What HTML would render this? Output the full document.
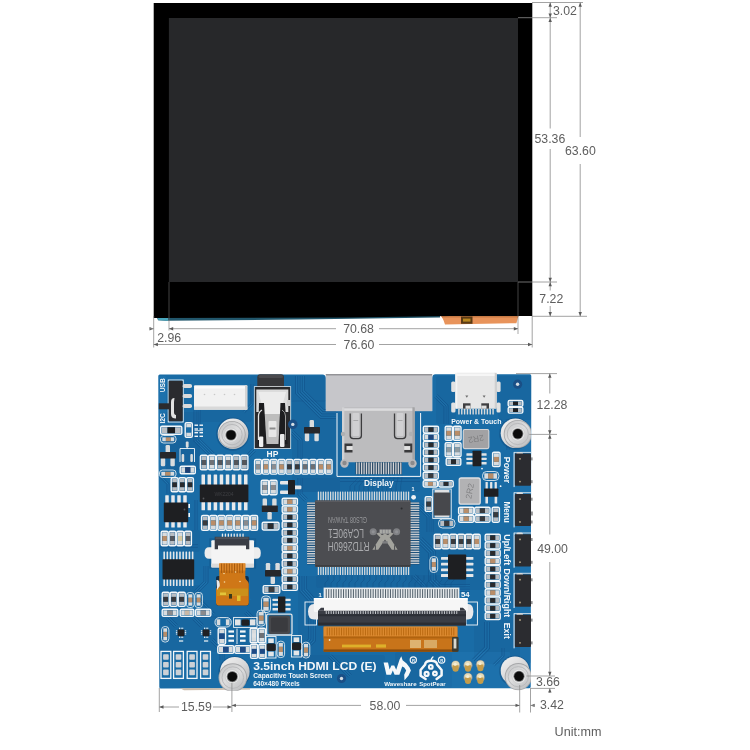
<!DOCTYPE html>
<html lang="en">
<head>
<meta charset="utf-8">
<title>3.5inch HDMI LCD (E) - Outline Dimensions</title>
<style>
html,body{margin:0;padding:0;background:#fff;}
body{width:750px;height:750px;overflow:hidden;font-family:"Liberation Sans",sans-serif;}
svg{display:block;will-change:transform;font-family:"Liberation Sans",sans-serif;}
</style>
</head>
<body>
<svg width="750" height="750" viewBox="0 0 750 750">
<defs>
<filter id="soft" color-interpolation-filters="sRGB" x="-5%" y="-5%" width="110%" height="110%"><feGaussianBlur stdDeviation="0.38"/></filter>
<filter id="tsoft" color-interpolation-filters="sRGB" x="-2%" y="-2%" width="104%" height="104%"><feGaussianBlur stdDeviation="0.3"/></filter>
<linearGradient id="gSt1" x1="0.15" y1="0.1" x2="0.85" y2="0.9"><stop offset="0" stop-color="#ededed"/><stop offset="0.5" stop-color="#d9d9da"/><stop offset="1" stop-color="#b9babc"/></linearGradient>
<linearGradient id="gSt3" x1="0.2" y1="0.1" x2="0.8" y2="0.9"><stop offset="0" stop-color="#c9cacb"/><stop offset="0.45" stop-color="#dededf"/><stop offset="1" stop-color="#c2c3c5"/></linearGradient>
<clipPath id="cpBoard"><rect x="158.3" y="374.3" width="372.7" height="316.4"/></clipPath>

</defs>
<rect width="750" height="750" fill="#ffffff"/>
<g id="lcd" filter="url(#tsoft)">
<polygon points="156.80,317.00 440.00,315.50 440.00,317.40 300.00,319.60 166.00,320.70 158.00,320.20" fill="#21566b" />
<polygon points="156.80,317.00 168.00,317.00 168.00,320.70 158.50,320.30" fill="#49a6bd" />
<polygon points="441.00,315.50 518.60,315.50 516.40,323.20 445.00,324.40 443.40,320.00" fill="#e8935a" />
<polygon points="441.00,315.50 518.60,315.50 518.00,317.50 442.00,317.50" fill="#c77a45" />
<rect x="461.00" y="316.50" width="11.50" height="7.30" fill="#5a3a14" />
<rect x="463.00" y="318.60" width="7.50" height="3.00" fill="#b8861e" />
<polygon points="153.70,3.10 532.30,2.90 532.30,316.00 450.00,316.00 350.00,317.40 153.70,317.90" fill="#000000" />
<rect x="168.90" y="18.00" width="349.10" height="264.00" fill="#27282a" />
</g>
<g id="pcb" filter="url(#soft)">
<path d="M159.8,374.4 H322.5 Q325.8,374.4 325.8,378 V411 H432.2 V378 Q432.2,374.2 435.5,374.2 H529.9 Q531.3,374.2 531.3,376 L530.7,686.6 Q530.7,688.2 529.2,688.2 L160.8,688.4 Q159.3,688.4 159.3,686.9 L158.3,376 Q158.3,374.4 159.8,374.4 Z" fill="#196ca6" />
<polygon points="180.00,688.30 250.00,688.30 250.00,689.60 184.00,690.20" fill="#c9b8a6" />
<rect x="160.00" y="412.00" width="40.00" height="58.00" fill="#155a92" rx="3" opacity="0.28" />
<rect x="196.00" y="410.00" width="56.00" height="12.00" fill="#155a92" rx="3" opacity="0.28" />
<rect x="250.00" y="376.00" width="76.00" height="26.00" fill="#155a92" rx="3" opacity="0.28" />
<rect x="292.00" y="400.00" width="48.00" height="92.00" fill="#155a92" rx="3" opacity="0.28" />
<rect x="160.00" y="440.00" width="40.00" height="30.00" fill="#155a92" rx="3" opacity="0.28" />
<rect x="298.00" y="576.00" width="32.00" height="84.00" fill="#155a92" rx="3" opacity="0.28" />
<rect x="160.00" y="616.00" width="102.00" height="36.00" fill="#155a92" rx="3" opacity="0.28" />
<rect x="410.00" y="500.00" width="30.00" height="100.00" fill="#155a92" rx="3" opacity="0.28" />
<rect x="436.00" y="376.00" width="20.00" height="48.00" fill="#155a92" rx="3" opacity="0.28" />
<rect x="498.00" y="376.00" width="33.00" height="44.00" fill="#155a92" rx="3" opacity="0.28" />
<rect x="474.00" y="620.00" width="57.00" height="44.00" fill="#155a92" rx="3" opacity="0.28" />
<rect x="300.00" y="655.00" width="85.00" height="33.00" fill="#155a92" rx="3" opacity="0.28" />
<rect x="395.00" y="652.00" width="57.00" height="36.00" fill="#155a92" rx="3" opacity="0.28" />
<rect x="300.00" y="478.00" width="120.00" height="14.00" fill="#155a92" rx="3" opacity="0.28" />
<rect x="316.00" y="575.00" width="150.00" height="13.00" fill="#155a92" rx="3" opacity="0.28" />
<rect x="160.00" y="530.00" width="40.00" height="22.00" fill="#155a92" rx="3" opacity="0.28" />
<rect x="200.00" y="600.00" width="62.00" height="18.00" fill="#155a92" rx="3" opacity="0.28" />
<rect x="440.00" y="548.00" width="46.00" height="42.00" fill="#155a92" rx="3" opacity="0.28" />
<rect x="250.00" y="530.00" width="34.00" height="70.00" fill="#155a92" rx="3" opacity="0.28" />
<rect x="160.00" y="585.00" width="40.00" height="9.00" fill="#155a92" rx="3" opacity="0.28" />
<rect x="520.00" y="420.00" width="11.00" height="268.00" fill="#2c86c2" rx="1" opacity="0.22" />
<rect x="158.50" y="376.00" width="7.50" height="94.00" fill="#2c86c2" rx="1" opacity="0.22" />
<rect x="440.00" y="652.00" width="70.00" height="36.00" fill="#2c86c2" rx="1" opacity="0.22" />
<path d="M200.0,410.0 L200.0,438.8 L214.1,452.9" fill="none" stroke="#12528a" stroke-width="0.85" opacity="0.8"/>
<path d="M199.0,410.0 L199.0,439.2 L213.4,453.6" fill="none" stroke="#2f8ac4" stroke-width="0.68" opacity="0.44000000000000006"/>
<path d="M198.0,410.0 L198.0,439.6 L212.7,454.3" fill="none" stroke="#12528a" stroke-width="0.85" opacity="0.8"/>
<path d="M197.0,410.0 L197.0,440.0 L212.0,455.0" fill="none" stroke="#2f8ac4" stroke-width="0.68" opacity="0.44000000000000006"/>
<path d="M196.0,410.0 L196.0,440.4 L211.3,455.7" fill="none" stroke="#12528a" stroke-width="0.85" opacity="0.8"/>
<path d="M195.0,410.0 L195.0,440.8 L210.6,456.4" fill="none" stroke="#2f8ac4" stroke-width="0.68" opacity="0.44000000000000006"/>
<path d="M194.0,410.0 L194.0,441.2 L209.9,457.1" fill="none" stroke="#12528a" stroke-width="0.85" opacity="0.8"/>
<path d="M304.4,376.0 L304.4,390.2 L323.8,409.6 L336.0,409.6" fill="none" stroke="#12528a" stroke-width="0.85" opacity="0.8"/>
<path d="M303.3,376.0 L303.3,390.6 L323.4,410.7 L336.0,410.7" fill="none" stroke="#2f8ac4" stroke-width="0.68" opacity="0.44000000000000006"/>
<path d="M302.2,376.0 L302.2,391.1 L322.9,411.8 L336.0,411.8" fill="none" stroke="#12528a" stroke-width="0.85" opacity="0.8"/>
<path d="M301.1,376.0 L301.1,391.5 L322.5,412.9 L336.0,412.9" fill="none" stroke="#2f8ac4" stroke-width="0.68" opacity="0.44000000000000006"/>
<path d="M300.0,376.0 L300.0,392.0 L322.0,414.0 L336.0,414.0" fill="none" stroke="#12528a" stroke-width="0.85" opacity="0.8"/>
<path d="M298.9,376.0 L298.9,392.5 L321.5,415.1 L336.0,415.1" fill="none" stroke="#2f8ac4" stroke-width="0.68" opacity="0.44000000000000006"/>
<path d="M297.8,376.0 L297.8,392.9 L321.1,416.2 L336.0,416.2" fill="none" stroke="#12528a" stroke-width="0.85" opacity="0.8"/>
<path d="M296.7,376.0 L296.7,393.4 L320.6,417.3 L336.0,417.3" fill="none" stroke="#2f8ac4" stroke-width="0.68" opacity="0.44000000000000006"/>
<path d="M295.6,376.0 L295.6,393.8 L320.2,418.4 L336.0,418.4" fill="none" stroke="#12528a" stroke-width="0.85" opacity="0.8"/>
<path d="M293.4,430.6 L302.0,439.2 L302.0,458.0" fill="none" stroke="#12528a" stroke-width="0.85" opacity="0.8"/>
<path d="M292.7,431.3 L301.0,439.6 L301.0,458.0" fill="none" stroke="#2f8ac4" stroke-width="0.68" opacity="0.44000000000000006"/>
<path d="M292.0,432.0 L300.0,440.0 L300.0,458.0" fill="none" stroke="#12528a" stroke-width="0.85" opacity="0.8"/>
<path d="M291.3,432.7 L299.0,440.4 L299.0,458.0" fill="none" stroke="#2f8ac4" stroke-width="0.68" opacity="0.44000000000000006"/>
<path d="M290.6,433.4 L298.0,440.8 L298.0,458.0" fill="none" stroke="#12528a" stroke-width="0.85" opacity="0.8"/>
<path d="M253.0,384.0 L253.0,404.4 L244.7,412.7" fill="none" stroke="#12528a" stroke-width="0.85" opacity="0.8"/>
<path d="M252.0,384.0 L252.0,404.0 L244.0,412.0" fill="none" stroke="#2f8ac4" stroke-width="0.68" opacity="0.44000000000000006"/>
<path d="M251.0,384.0 L251.0,403.6 L243.3,411.3" fill="none" stroke="#12528a" stroke-width="0.85" opacity="0.8"/>
<path d="M160.0,544.8 L198.0,544.8" fill="none" stroke="#12528a" stroke-width="0.85" opacity="0.8"/>
<path d="M160.0,546.0 L198.0,546.0" fill="none" stroke="#2f8ac4" stroke-width="0.68" opacity="0.44000000000000006"/>
<path d="M160.0,547.2 L198.0,547.2" fill="none" stroke="#12528a" stroke-width="0.85" opacity="0.8"/>
<path d="M194.6,590.6 L204.0,581.2 L204.0,566.0" fill="none" stroke="#12528a" stroke-width="0.85" opacity="0.8"/>
<path d="M195.3,591.3 L205.0,581.6 L205.0,566.0" fill="none" stroke="#2f8ac4" stroke-width="0.68" opacity="0.44000000000000006"/>
<path d="M196.0,592.0 L206.0,582.0 L206.0,566.0" fill="none" stroke="#12528a" stroke-width="0.85" opacity="0.8"/>
<path d="M196.7,592.7 L207.0,582.4 L207.0,566.0" fill="none" stroke="#2f8ac4" stroke-width="0.68" opacity="0.44000000000000006"/>
<path d="M197.4,593.4 L208.0,582.8 L208.0,566.0" fill="none" stroke="#12528a" stroke-width="0.85" opacity="0.8"/>
<path d="M160.0,599.0 L200.4,599.0 L214.7,613.3" fill="none" stroke="#12528a" stroke-width="0.85" opacity="0.8"/>
<path d="M160.0,600.0 L200.0,600.0 L214.0,614.0" fill="none" stroke="#2f8ac4" stroke-width="0.68" opacity="0.44000000000000006"/>
<path d="M160.0,601.0 L199.6,601.0 L213.3,614.7" fill="none" stroke="#12528a" stroke-width="0.85" opacity="0.8"/>
<path d="M247.4,610.6 L263.4,626.6" fill="none" stroke="#12528a" stroke-width="0.85" opacity="0.8"/>
<path d="M246.7,611.3 L262.7,627.3" fill="none" stroke="#2f8ac4" stroke-width="0.68" opacity="0.44000000000000006"/>
<path d="M246.0,612.0 L262.0,628.0" fill="none" stroke="#12528a" stroke-width="0.85" opacity="0.8"/>
<path d="M245.3,612.7 L261.3,628.7" fill="none" stroke="#2f8ac4" stroke-width="0.68" opacity="0.44000000000000006"/>
<path d="M244.6,613.4 L260.6,629.4" fill="none" stroke="#12528a" stroke-width="0.85" opacity="0.8"/>
<path d="M302.0,478.0 L302.0,493.2 L307.4,498.6" fill="none" stroke="#12528a" stroke-width="0.85" opacity="0.8"/>
<path d="M301.0,478.0 L301.0,493.6 L306.7,499.3" fill="none" stroke="#2f8ac4" stroke-width="0.68" opacity="0.44000000000000006"/>
<path d="M300.0,478.0 L300.0,494.0 L306.0,500.0" fill="none" stroke="#12528a" stroke-width="0.85" opacity="0.8"/>
<path d="M299.0,478.0 L299.0,494.4 L305.3,500.7" fill="none" stroke="#2f8ac4" stroke-width="0.68" opacity="0.44000000000000006"/>
<path d="M298.0,478.0 L298.0,494.8 L304.6,501.4" fill="none" stroke="#12528a" stroke-width="0.85" opacity="0.8"/>
<path d="M306.3,576.0 L306.3,588.7 L315.3,598.7 L315.3,641.4 L306.3,650.3" fill="none" stroke="#12528a" stroke-width="0.85" opacity="0.8"/>
<path d="M305.2,576.0 L305.2,589.2 L314.2,599.2 L314.2,640.9 L305.6,649.6" fill="none" stroke="#2f8ac4" stroke-width="0.68" opacity="0.44000000000000006"/>
<path d="M304.1,576.0 L304.1,589.6 L313.1,599.6 L313.1,640.5 L304.8,648.8" fill="none" stroke="#12528a" stroke-width="0.85" opacity="0.8"/>
<path d="M303.0,576.0 L303.0,590.0 L312.0,600.0 L312.0,640.0 L304.0,648.0" fill="none" stroke="#2f8ac4" stroke-width="0.68" opacity="0.44000000000000006"/>
<path d="M301.9,576.0 L301.9,590.4 L310.9,600.4 L310.9,639.5 L303.2,647.2" fill="none" stroke="#12528a" stroke-width="0.85" opacity="0.8"/>
<path d="M300.8,576.0 L300.8,590.8 L309.8,600.8 L309.8,639.1 L302.4,646.4" fill="none" stroke="#2f8ac4" stroke-width="0.68" opacity="0.44000000000000006"/>
<path d="M299.7,576.0 L299.7,591.3 L308.7,601.3 L308.7,638.6 L301.7,645.7" fill="none" stroke="#12528a" stroke-width="0.85" opacity="0.8"/>
<path d="M422.1,503.9 L433.0,514.8 L433.0,532.0" fill="none" stroke="#12528a" stroke-width="0.85" opacity="0.8"/>
<path d="M421.4,504.6 L432.0,515.2 L432.0,532.0" fill="none" stroke="#2f8ac4" stroke-width="0.68" opacity="0.44000000000000006"/>
<path d="M420.7,505.3 L431.0,515.6 L431.0,532.0" fill="none" stroke="#12528a" stroke-width="0.85" opacity="0.8"/>
<path d="M420.0,506.0 L430.0,516.0 L430.0,532.0" fill="none" stroke="#2f8ac4" stroke-width="0.68" opacity="0.44000000000000006"/>
<path d="M419.3,506.7 L429.0,516.4 L429.0,532.0" fill="none" stroke="#12528a" stroke-width="0.85" opacity="0.8"/>
<path d="M418.6,507.4 L428.0,516.8 L428.0,532.0" fill="none" stroke="#2f8ac4" stroke-width="0.68" opacity="0.44000000000000006"/>
<path d="M417.9,508.1 L427.0,517.2 L427.0,532.0" fill="none" stroke="#12528a" stroke-width="0.85" opacity="0.8"/>
<path d="M422.3,537.7 L435.3,550.6 L435.3,578.6 L441.4,584.7 L470.0,584.7" fill="none" stroke="#12528a" stroke-width="0.85" opacity="0.8"/>
<path d="M421.6,538.4 L434.2,551.1 L434.2,579.1 L440.9,585.8 L470.0,585.8" fill="none" stroke="#2f8ac4" stroke-width="0.68" opacity="0.44000000000000006"/>
<path d="M420.8,539.2 L433.1,551.5 L433.1,579.5 L440.5,586.9 L470.0,586.9" fill="none" stroke="#12528a" stroke-width="0.85" opacity="0.8"/>
<path d="M420.0,540.0 L432.0,552.0 L432.0,580.0 L440.0,588.0 L470.0,588.0" fill="none" stroke="#2f8ac4" stroke-width="0.68" opacity="0.44000000000000006"/>
<path d="M419.2,540.8 L430.9,552.5 L430.9,580.5 L439.5,589.1 L470.0,589.1" fill="none" stroke="#12528a" stroke-width="0.85" opacity="0.8"/>
<path d="M418.4,541.6 L429.8,552.9 L429.8,580.9 L439.1,590.2 L470.0,590.2" fill="none" stroke="#2f8ac4" stroke-width="0.68" opacity="0.44000000000000006"/>
<path d="M417.7,542.3 L428.7,553.4 L428.7,581.4 L438.6,591.3 L470.0,591.3" fill="none" stroke="#12528a" stroke-width="0.85" opacity="0.8"/>
<path d="M415.4,574.6 L426.0,585.2 L426.0,600.0" fill="none" stroke="#12528a" stroke-width="0.85" opacity="0.8"/>
<path d="M414.7,575.3 L425.0,585.6 L425.0,600.0" fill="none" stroke="#2f8ac4" stroke-width="0.68" opacity="0.44000000000000006"/>
<path d="M414.0,576.0 L424.0,586.0 L424.0,600.0" fill="none" stroke="#12528a" stroke-width="0.85" opacity="0.8"/>
<path d="M413.3,576.7 L423.0,586.4 L423.0,600.0" fill="none" stroke="#2f8ac4" stroke-width="0.68" opacity="0.44000000000000006"/>
<path d="M412.6,577.4 L422.0,586.8 L422.0,600.0" fill="none" stroke="#12528a" stroke-width="0.85" opacity="0.8"/>
<path d="M340.0,478.7 L420.0,478.7" fill="none" stroke="#12528a" stroke-width="0.85" opacity="0.8"/>
<path d="M340.0,480.0 L420.0,480.0" fill="none" stroke="#2f8ac4" stroke-width="0.68" opacity="0.44000000000000006"/>
<path d="M340.0,481.3 L420.0,481.3" fill="none" stroke="#12528a" stroke-width="0.85" opacity="0.8"/>
<path d="M437.4,394.6 L448.0,405.2 L448.0,424.0" fill="none" stroke="#12528a" stroke-width="0.85" opacity="0.8"/>
<path d="M436.7,395.3 L447.0,405.6 L447.0,424.0" fill="none" stroke="#2f8ac4" stroke-width="0.68" opacity="0.44000000000000006"/>
<path d="M436.0,396.0 L446.0,406.0 L446.0,424.0" fill="none" stroke="#12528a" stroke-width="0.85" opacity="0.8"/>
<path d="M435.3,396.7 L445.0,406.4 L445.0,424.0" fill="none" stroke="#2f8ac4" stroke-width="0.68" opacity="0.44000000000000006"/>
<path d="M434.6,397.4 L444.0,406.8 L444.0,424.0" fill="none" stroke="#12528a" stroke-width="0.85" opacity="0.8"/>
<path d="M489.4,622.0 L489.4,649.0 L475.7,662.7" fill="none" stroke="#12528a" stroke-width="0.85" opacity="0.8"/>
<path d="M488.2,622.0 L488.2,648.5 L474.8,661.8" fill="none" stroke="#2f8ac4" stroke-width="0.68" opacity="0.44000000000000006"/>
<path d="M487.0,622.0 L487.0,648.0 L474.0,661.0" fill="none" stroke="#12528a" stroke-width="0.85" opacity="0.8"/>
<path d="M485.8,622.0 L485.8,647.5 L473.2,660.2" fill="none" stroke="#2f8ac4" stroke-width="0.68" opacity="0.44000000000000006"/>
<path d="M484.6,622.0 L484.6,647.0 L472.3,659.3" fill="none" stroke="#12528a" stroke-width="0.85" opacity="0.8"/>
<path d="M504.0,648.0 L504.0,656.4 L494.7,665.7" fill="none" stroke="#12528a" stroke-width="0.85" opacity="0.8"/>
<path d="M503.0,648.0 L503.0,656.0 L494.0,665.0" fill="none" stroke="#2f8ac4" stroke-width="0.68" opacity="0.44000000000000006"/>
<path d="M502.0,648.0 L502.0,655.6 L493.3,664.3" fill="none" stroke="#12528a" stroke-width="0.85" opacity="0.8"/>
<path d="M331.4,654.6 L351.4,674.6" fill="none" stroke="#12528a" stroke-width="0.85" opacity="0.8"/>
<path d="M330.7,655.3 L350.7,675.3" fill="none" stroke="#2f8ac4" stroke-width="0.68" opacity="0.44000000000000006"/>
<path d="M330.0,656.0 L350.0,676.0" fill="none" stroke="#12528a" stroke-width="0.85" opacity="0.8"/>
<path d="M329.3,656.7 L349.3,676.7" fill="none" stroke="#2f8ac4" stroke-width="0.68" opacity="0.44000000000000006"/>
<path d="M328.6,657.4 L348.6,677.4" fill="none" stroke="#12528a" stroke-width="0.85" opacity="0.8"/>
<path d="M169.4,616.6 L177.4,624.6" fill="none" stroke="#12528a" stroke-width="0.85" opacity="0.8"/>
<path d="M168.7,617.3 L176.7,625.3" fill="none" stroke="#2f8ac4" stroke-width="0.68" opacity="0.44000000000000006"/>
<path d="M168.0,618.0 L176.0,626.0" fill="none" stroke="#12528a" stroke-width="0.85" opacity="0.8"/>
<path d="M167.3,618.7 L175.3,626.7" fill="none" stroke="#2f8ac4" stroke-width="0.68" opacity="0.44000000000000006"/>
<path d="M166.6,619.4 L174.6,627.4" fill="none" stroke="#12528a" stroke-width="0.85" opacity="0.8"/>
<path d="M195.4,616.6 L203.4,624.6" fill="none" stroke="#12528a" stroke-width="0.85" opacity="0.8"/>
<path d="M194.7,617.3 L202.7,625.3" fill="none" stroke="#2f8ac4" stroke-width="0.68" opacity="0.44000000000000006"/>
<path d="M194.0,618.0 L202.0,626.0" fill="none" stroke="#12528a" stroke-width="0.85" opacity="0.8"/>
<path d="M193.3,618.7 L201.3,626.7" fill="none" stroke="#2f8ac4" stroke-width="0.68" opacity="0.44000000000000006"/>
<path d="M192.6,619.4 L200.6,627.4" fill="none" stroke="#12528a" stroke-width="0.85" opacity="0.8"/>
<path d="M213.4,638.6 L224.0,649.2 L224.0,660.0" fill="none" stroke="#12528a" stroke-width="0.85" opacity="0.8"/>
<path d="M212.7,639.3 L223.0,649.6 L223.0,660.0" fill="none" stroke="#2f8ac4" stroke-width="0.68" opacity="0.44000000000000006"/>
<path d="M212.0,640.0 L222.0,650.0 L222.0,660.0" fill="none" stroke="#12528a" stroke-width="0.85" opacity="0.8"/>
<path d="M211.3,640.7 L221.0,650.4 L221.0,660.0" fill="none" stroke="#2f8ac4" stroke-width="0.68" opacity="0.44000000000000006"/>
<path d="M210.6,641.4 L220.0,650.8 L220.0,660.0" fill="none" stroke="#12528a" stroke-width="0.85" opacity="0.8"/>
<path d="M255.4,451.4 L248.0,458.8 L248.0,474.0" fill="none" stroke="#12528a" stroke-width="0.85" opacity="0.8"/>
<path d="M254.7,450.7 L247.0,458.4 L247.0,474.0" fill="none" stroke="#2f8ac4" stroke-width="0.68" opacity="0.44000000000000006"/>
<path d="M254.0,450.0 L246.0,458.0 L246.0,474.0" fill="none" stroke="#12528a" stroke-width="0.85" opacity="0.8"/>
<path d="M253.3,449.3 L245.0,457.6 L245.0,474.0" fill="none" stroke="#2f8ac4" stroke-width="0.68" opacity="0.44000000000000006"/>
<path d="M252.6,448.6 L244.0,457.2 L244.0,474.0" fill="none" stroke="#12528a" stroke-width="0.85" opacity="0.8"/>
<path d="M438.6,598.6 L450.6,586.6" fill="none" stroke="#12528a" stroke-width="0.85" opacity="0.8"/>
<path d="M439.3,599.3 L451.3,587.3" fill="none" stroke="#2f8ac4" stroke-width="0.68" opacity="0.44000000000000006"/>
<path d="M440.0,600.0 L452.0,588.0" fill="none" stroke="#12528a" stroke-width="0.85" opacity="0.8"/>
<path d="M440.7,600.7 L452.7,588.7" fill="none" stroke="#2f8ac4" stroke-width="0.68" opacity="0.44000000000000006"/>
<path d="M441.4,601.4 L453.4,589.4" fill="none" stroke="#12528a" stroke-width="0.85" opacity="0.8"/>
<path d="M500.7,419.3 L509.0,427.6 L509.0,450.0" fill="none" stroke="#12528a" stroke-width="0.85" opacity="0.8"/>
<path d="M500.0,420.0 L508.0,428.0 L508.0,450.0" fill="none" stroke="#2f8ac4" stroke-width="0.68" opacity="0.44000000000000006"/>
<path d="M499.3,420.7 L507.0,428.4 L507.0,450.0" fill="none" stroke="#12528a" stroke-width="0.85" opacity="0.8"/>
<path d="M160.7,475.3 L169.0,483.6 L169.0,494.0" fill="none" stroke="#12528a" stroke-width="0.85" opacity="0.8"/>
<path d="M160.0,476.0 L168.0,484.0 L168.0,494.0" fill="none" stroke="#2f8ac4" stroke-width="0.68" opacity="0.44000000000000006"/>
<path d="M159.3,476.7 L167.0,484.4 L167.0,494.0" fill="none" stroke="#12528a" stroke-width="0.85" opacity="0.8"/>
<path d="M197.0,500.0 L197.0,530.0" fill="none" stroke="#12528a" stroke-width="0.85" opacity="0.8"/>
<path d="M196.0,500.0 L196.0,530.0" fill="none" stroke="#2f8ac4" stroke-width="0.68" opacity="0.44000000000000006"/>
<path d="M195.0,500.0 L195.0,530.0" fill="none" stroke="#12528a" stroke-width="0.85" opacity="0.8"/>
<path d="M328,575.5 V580 L325,583 V588" fill="none" stroke="#12528a" stroke-width="0.8" opacity="0.7"/>
<path d="M334,575.5 V580 L331,583 V588" fill="none" stroke="#12528a" stroke-width="0.8" opacity="0.7"/>
<path d="M340,575.5 V580 L337,583 V588" fill="none" stroke="#12528a" stroke-width="0.8" opacity="0.7"/>
<path d="M346,575.5 V580 L343,583 V588" fill="none" stroke="#12528a" stroke-width="0.8" opacity="0.7"/>
<path d="M352,575.5 V580 L349,583 V588" fill="none" stroke="#12528a" stroke-width="0.8" opacity="0.7"/>
<path d="M358,575.5 V580 L355,583 V588" fill="none" stroke="#12528a" stroke-width="0.8" opacity="0.7"/>
<path d="M364,575.5 V580 L361,583 V588" fill="none" stroke="#12528a" stroke-width="0.8" opacity="0.7"/>
<path d="M370,575.5 V580 L367,583 V588" fill="none" stroke="#12528a" stroke-width="0.8" opacity="0.7"/>
<path d="M376,575.5 V580 L373,583 V588" fill="none" stroke="#12528a" stroke-width="0.8" opacity="0.7"/>
<path d="M382,575.5 V580 L379,583 V588" fill="none" stroke="#12528a" stroke-width="0.8" opacity="0.7"/>
<path d="M388,575.5 V580 L385,583 V588" fill="none" stroke="#12528a" stroke-width="0.8" opacity="0.7"/>
<path d="M394,575.5 V580 L391,583 V588" fill="none" stroke="#12528a" stroke-width="0.8" opacity="0.7"/>
<path d="M400,575.5 V580 L397,583 V588" fill="none" stroke="#12528a" stroke-width="0.8" opacity="0.7"/>
<path d="M406,575.5 V580 L403,583 V588" fill="none" stroke="#12528a" stroke-width="0.8" opacity="0.7"/>
<path d="M412,575.5 V580 L409,583 V588" fill="none" stroke="#12528a" stroke-width="0.8" opacity="0.7"/>
<path d="M418,575.5 V580 L415,583 V588" fill="none" stroke="#12528a" stroke-width="0.8" opacity="0.7"/>
<path d="M424,575.5 V580 L421,583 V588" fill="none" stroke="#12528a" stroke-width="0.8" opacity="0.7"/>
<path d="M430,575.5 V580 L427,583 V588" fill="none" stroke="#12528a" stroke-width="0.8" opacity="0.7"/>
<path d="M436,575.5 V580 L433,583 V588" fill="none" stroke="#12528a" stroke-width="0.8" opacity="0.7"/>
<path d="M442,575.5 V580 L439,583 V588" fill="none" stroke="#12528a" stroke-width="0.8" opacity="0.7"/>
<path d="M448,575.5 V580 L445,583 V588" fill="none" stroke="#12528a" stroke-width="0.8" opacity="0.7"/>
<path d="M454,575.5 V580 L451,583 V588" fill="none" stroke="#12528a" stroke-width="0.8" opacity="0.7"/>
<path d="M358,474.5 V478 L350.0,486 V491" fill="none" stroke="#12528a" stroke-width="0.8" opacity="0.6"/>
<path d="M362,474.5 V478 L354.6,486 V491" fill="none" stroke="#12528a" stroke-width="0.8" opacity="0.6"/>
<path d="M366,474.5 V478 L359.2,486 V491" fill="none" stroke="#12528a" stroke-width="0.8" opacity="0.6"/>
<path d="M370,474.5 V478 L363.8,486 V491" fill="none" stroke="#12528a" stroke-width="0.8" opacity="0.6"/>
<path d="M374,474.5 V478 L368.4,486 V491" fill="none" stroke="#12528a" stroke-width="0.8" opacity="0.6"/>
<path d="M378,474.5 V478 L373.0,486 V491" fill="none" stroke="#12528a" stroke-width="0.8" opacity="0.6"/>
<path d="M382,474.5 V478 L377.6,486 V491" fill="none" stroke="#12528a" stroke-width="0.8" opacity="0.6"/>
<path d="M386,474.5 V478 L382.2,486 V491" fill="none" stroke="#12528a" stroke-width="0.8" opacity="0.6"/>
<path d="M390,474.5 V478 L386.8,486 V491" fill="none" stroke="#12528a" stroke-width="0.8" opacity="0.6"/>
<path d="M394,474.5 V478 L391.4,486 V491" fill="none" stroke="#12528a" stroke-width="0.8" opacity="0.6"/>
<path d="M398,474.5 V478 L396.0,486 V491" fill="none" stroke="#12528a" stroke-width="0.8" opacity="0.6"/>
<path d="M402,474.5 V478 L400.6,486 V491" fill="none" stroke="#12528a" stroke-width="0.8" opacity="0.6"/>
<rect x="325.80" y="374.30" width="106.40" height="36.90" fill="#c6c6ca" />
<line x1="325.80" y1="374.80" x2="432.20" y2="374.80" stroke="#77777b" stroke-width="1.0" />
<text x="164.60" y="392.30" font-size="6.3" fill="#f4f7f9" text-anchor="start" font-weight="bold" transform="rotate(-90 164.60 392.30)" textLength="14" lengthAdjust="spacingAndGlyphs" >USB</text>
<text x="164.60" y="423.50" font-size="6.3" fill="#f4f7f9" text-anchor="start" font-weight="bold" transform="rotate(-90 164.60 423.50)" textLength="10.5" lengthAdjust="spacingAndGlyphs" >I2C</text>
<rect x="168.20" y="380.00" width="15.00" height="42.00" fill="none" stroke="#f4f7f9" stroke-width="0.9" />
<rect x="168.70" y="380.70" width="14.00" height="40.60" fill="#2a2b2f" rx="1" />
<rect x="158.80" y="403.30" width="10.20" height="6.00" fill="#2b2b2d" />
<path d="M174.5,398 Q171,398 171,402 V414 Q171,418.5 176,418.5 V415 Q174,415 174,412 V402 Z" fill="#e2e2e2" />
<rect x="182.70" y="383.90" width="9.30" height="4.20" fill="#dcdcdc" rx="1.8" />
<rect x="182.70" y="393.90" width="9.30" height="4.20" fill="#dcdcdc" rx="1.8" />
<rect x="182.70" y="403.90" width="9.30" height="4.20" fill="#dcdcdc" rx="1.8" />
<rect x="194.00" y="385.30" width="53.30" height="24.40" fill="#f1f1f1" rx="1" />
<rect x="195.00" y="386.20" width="51.30" height="2.30" fill="#fbfbfb" />
<rect x="194.00" y="406.50" width="53.30" height="3.20" fill="#d9d9d9" />
<rect x="245.00" y="385.30" width="2.30" height="24.40" fill="#d4d4d4" />
<circle cx="204.50" cy="394.50" r="0.80" fill="#c9c9c9" />
<circle cx="214.50" cy="394.50" r="0.80" fill="#c9c9c9" />
<circle cx="224.50" cy="394.50" r="0.80" fill="#c9c9c9" />
<circle cx="234.50" cy="394.50" r="0.80" fill="#c9c9c9" />
<g clip-path="url(#cpBoard)">
<circle cx="232.70" cy="434.10" r="16.60" fill="#0f4a7c" opacity="0.45"/>
<circle cx="233.00" cy="433.80" r="15.30" fill="url(#gSt1)" />
<circle cx="232.00" cy="434.60" r="13.70" fill="#a6a7a9" />
<circle cx="232.00" cy="434.60" r="12.80" fill="url(#gSt3)" />
<circle cx="232.00" cy="434.60" r="10.20" fill="none" stroke="#b9babc" stroke-width="1.0" />
<circle cx="231.00" cy="435.00" r="7.60" fill="#cfd0d1" />
<circle cx="231.00" cy="435.00" r="6.60" fill="#e9e9e9" />
<circle cx="231.00" cy="435.00" r="5.60" fill="#838486" />
<circle cx="231.00" cy="435.00" r="4.80" fill="#0b0b0b" />
</g>
<rect x="160.70" y="426.20" width="21.10" height="8.10" fill="none" rx="1.4" stroke="#f4f7f9" stroke-width="1.4" />
<rect x="161.80" y="427.30" width="5.67" height="5.90" fill="#b9bec3" />
<rect x="175.03" y="427.30" width="5.67" height="5.90" fill="#b9bec3" />
<rect x="167.47" y="427.30" width="7.56" height="5.90" fill="#1b1b1d" />
<rect x="162.30" y="437.30" width="3.57" height="3.90" fill="#d9dcde" />
<rect x="170.63" y="437.30" width="3.57" height="3.90" fill="#d9dcde" />
<rect x="165.87" y="437.30" width="4.76" height="3.90" fill="#b98d68" />
<rect x="160.50" y="435.50" width="15.50" height="7.50" fill="none" rx="3" stroke="#f4f7f9" stroke-width="0.8" />
<rect x="185.20" y="422.70" width="7.10" height="14.60" fill="none" rx="1.4" stroke="#f4f7f9" stroke-width="1.4" />
<rect x="186.30" y="423.80" width="4.90" height="3.72" fill="#d9dcde" />
<rect x="186.30" y="432.48" width="4.90" height="3.72" fill="#d9dcde" />
<rect x="186.30" y="427.52" width="4.90" height="4.96" fill="#196ca6" />
<rect x="194.50" y="424.50" width="3.50" height="1.40" fill="#f4f7f9" />
<rect x="199.50" y="424.50" width="3.50" height="1.40" fill="#f4f7f9" />
<rect x="194.50" y="428.30" width="3.50" height="1.40" fill="#f4f7f9" />
<rect x="199.50" y="428.30" width="3.50" height="1.40" fill="#f4f7f9" />
<rect x="194.50" y="432.00" width="3.50" height="1.40" fill="#f4f7f9" />
<rect x="199.50" y="432.00" width="3.50" height="1.40" fill="#f4f7f9" />
<rect x="194.50" y="435.60" width="3.50" height="1.40" fill="#f4f7f9" />
<rect x="199.50" y="435.60" width="3.50" height="1.40" fill="#f4f7f9" />
<line x1="194.50" y1="430.70" x2="203.00" y2="430.70" stroke="#f4f7f9" stroke-width="0.8" />
<rect x="165.60" y="445.00" width="4.40" height="7.60" fill="#d9dcde" rx="1.2" />
<rect x="160.80" y="457.80" width="4.40" height="8.40" fill="#d9dcde" rx="1.2" />
<rect x="170.40" y="457.80" width="4.40" height="8.40" fill="#d9dcde" rx="1.2" />
<rect x="160.00" y="452.00" width="16.00" height="6.40" fill="#26272b" rx="0.6" />
<path d="M180,462 V448.5 H194.5 V462 M187.2,448.5 V442" fill="none" stroke="#f4f7f9" stroke-width="0.9" />
<rect x="185.80" y="441.50" width="2.80" height="6.00" fill="#d9dcde" rx="1" />
<rect x="181.60" y="454.00" width="2.60" height="8.00" fill="#d9dcde" rx="1" />
<rect x="190.30" y="454.00" width="2.60" height="8.00" fill="#d9dcde" rx="1" />
<rect x="257.30" y="374.30" width="26.70" height="14.70" fill="#38383b" rx="3" />
<rect x="258.50" y="375.00" width="24.50" height="3.00" fill="#4a4a4e" rx="1.5" />
<rect x="254.70" y="387.00" width="35.60" height="61.30" fill="#2a2a2c" rx="1.2" />
<rect x="254.30" y="386.60" width="36.40" height="62.00" fill="none" stroke="#dfe3e6" stroke-width="0.8" />
<rect x="256.30" y="389.50" width="32.00" height="22.50" fill="#dcdcdc" />
<polygon points="258.50,392.00 286.00,392.00 280.00,414.00 264.00,414.00" fill="#ececec" />
<polygon points="264.00,414.00 280.00,414.00 279.00,444.00 266.00,444.00" fill="#bdbdbd" />
<polygon points="259.00,403.00 264.00,403.00 266.50,444.00 258.00,444.00" fill="#1d1d1f" />
<polygon points="285.00,403.00 280.50,403.00 278.50,444.00 287.50,444.00" fill="#1d1d1f" />
<path d="M258.5,440 V416 Q258.5,412 262,410" fill="none" stroke="#e6e6e6" stroke-width="1.3" />
<path d="M285.5,440 V416 Q285.5,412 282,410" fill="none" stroke="#9a9a9a" stroke-width="1.0" />
<rect x="268.50" y="421.00" width="8.00" height="16.00" fill="#e6e6e6" rx="1" />
<rect x="269.50" y="427.50" width="6.00" height="2.00" fill="#8c8c8c" />
<rect x="259.00" y="436.50" width="4.30" height="10.50" fill="#f0f0f0" rx="1" />
<rect x="280.00" y="434.00" width="4.50" height="13.00" fill="#ececec" rx="1" />
<rect x="286.80" y="400.00" width="3.50" height="6.00" fill="#cfcfcf" />
<text x="266.60" y="457.40" font-size="8.2" fill="#f4f7f9" text-anchor="start" font-weight="bold" textLength="11.8" lengthAdjust="spacingAndGlyphs" >HP</text>
<circle cx="292.80" cy="424.40" r="4.80" fill="#1a4f86" />
<circle cx="292.80" cy="424.40" r="1.70" fill="#d5dde3" />
<rect x="309.60" y="420.00" width="4.40" height="7.60" fill="#d9dcde" rx="1.2" />
<rect x="304.80" y="432.80" width="4.40" height="8.40" fill="#d9dcde" rx="1.2" />
<rect x="314.40" y="432.80" width="4.40" height="8.40" fill="#d9dcde" rx="1.2" />
<rect x="304.00" y="427.00" width="16.00" height="6.40" fill="#26272b" rx="0.6" />
<path d="M337,413 V476.4 H420.6 V413" fill="none" stroke="#f4f7f9" stroke-width="1.0" />
<rect x="342.00" y="407.30" width="72.70" height="55.00" fill="#bcbcbe" rx="1.5" />
<rect x="343.00" y="408.30" width="70.70" height="2.50" fill="#dcdcde" />
<rect x="342.00" y="407.30" width="2.30" height="55.00" fill="#d2d2d4" />
<rect x="412.40" y="407.30" width="2.30" height="55.00" fill="#a4a4a6" />
<path d="M350.2,413.5 V435.5 Q350.2,438.6 353.2,438.6 H358.4 Q361.4,438.6 361.4,435.5 V413.5" fill="none" stroke="#3c3c3e" stroke-width="1.3" />
<rect x="352.40" y="413.00" width="6.80" height="23.00" fill="#d0d0d2" rx="1" />
<rect x="353.40" y="420.00" width="4.80" height="1.00" fill="#a9a9ab" />
<path d="M394.5,413.5 V435.5 Q394.5,438.6 397.5,438.6 H402.7 Q405.7,438.6 405.7,435.5 V413.5" fill="none" stroke="#3c3c3e" stroke-width="1.3" />
<rect x="396.70" y="413.00" width="6.80" height="23.00" fill="#d0d0d2" rx="1" />
<rect x="397.70" y="420.00" width="4.80" height="1.00" fill="#a9a9ab" />
<path d="M344.5,443.5 H352.5 V446 H346.5 V450 H352.5 V452.5 H344.5 Z" fill="#3a3a3c" />
<path d="M412.3,443.5 H404.3 V446 H410.3 V450 H404.3 V452.5 H412.3 Z" fill="#3a3a3c" />
<rect x="346.80" y="446.20" width="5.70" height="3.60" fill="#e2e2e2" />
<rect x="404.30" y="446.20" width="5.70" height="3.60" fill="#e2e2e2" />
<circle cx="344.50" cy="463.50" r="4.20" fill="#b9b9bb" />
<circle cx="344.50" cy="463.00" r="2.20" fill="#8a8a8c" />
<circle cx="343.00" cy="434.00" r="2.20" fill="#aeb0b2" />
<circle cx="412.50" cy="463.50" r="4.20" fill="#b9b9bb" />
<circle cx="412.50" cy="463.00" r="2.20" fill="#8a8a8c" />
<circle cx="411.00" cy="434.00" r="2.20" fill="#aeb0b2" />
<rect x="355.50" y="462.30" width="46.50" height="11.90" fill="#2a4a66" />
<rect x="356.11" y="462.30" width="1.22" height="11.90" fill="#d6d6d8" rx="0.5" />
<rect x="358.56" y="462.30" width="1.22" height="11.90" fill="#d6d6d8" rx="0.5" />
<rect x="361.01" y="462.30" width="1.22" height="11.90" fill="#d6d6d8" rx="0.5" />
<rect x="363.45" y="462.30" width="1.22" height="11.90" fill="#d6d6d8" rx="0.5" />
<rect x="365.90" y="462.30" width="1.22" height="11.90" fill="#d6d6d8" rx="0.5" />
<rect x="368.35" y="462.30" width="1.22" height="11.90" fill="#d6d6d8" rx="0.5" />
<rect x="370.80" y="462.30" width="1.22" height="11.90" fill="#d6d6d8" rx="0.5" />
<rect x="373.24" y="462.30" width="1.22" height="11.90" fill="#d6d6d8" rx="0.5" />
<rect x="375.69" y="462.30" width="1.22" height="11.90" fill="#d6d6d8" rx="0.5" />
<rect x="378.14" y="462.30" width="1.22" height="11.90" fill="#d6d6d8" rx="0.5" />
<rect x="380.59" y="462.30" width="1.22" height="11.90" fill="#d6d6d8" rx="0.5" />
<rect x="383.03" y="462.30" width="1.22" height="11.90" fill="#d6d6d8" rx="0.5" />
<rect x="385.48" y="462.30" width="1.22" height="11.90" fill="#d6d6d8" rx="0.5" />
<rect x="387.93" y="462.30" width="1.22" height="11.90" fill="#d6d6d8" rx="0.5" />
<rect x="390.38" y="462.30" width="1.22" height="11.90" fill="#d6d6d8" rx="0.5" />
<rect x="392.82" y="462.30" width="1.22" height="11.90" fill="#d6d6d8" rx="0.5" />
<rect x="395.27" y="462.30" width="1.22" height="11.90" fill="#d6d6d8" rx="0.5" />
<rect x="397.72" y="462.30" width="1.22" height="11.90" fill="#d6d6d8" rx="0.5" />
<rect x="400.16" y="462.30" width="1.22" height="11.90" fill="#d6d6d8" rx="0.5" />
<text x="364.00" y="486.30" font-size="8.4" fill="#f4f7f9" text-anchor="start" font-weight="bold" textLength="29.6" lengthAdjust="spacingAndGlyphs" >Display</text>
<rect x="451.20" y="381.50" width="4.30" height="10.50" fill="#e2e2e2" rx="1.5" />
<rect x="451.20" y="402.50" width="4.30" height="10.00" fill="#e2e2e2" rx="1.5" />
<rect x="496.50" y="381.50" width="4.10" height="10.50" fill="#e2e2e2" rx="1.5" />
<rect x="496.50" y="402.50" width="4.10" height="10.00" fill="#e2e2e2" rx="1.5" />
<rect x="455.30" y="372.80" width="41.40" height="35.90" fill="#e6e6e6" rx="2" />
<rect x="456.30" y="373.50" width="39.40" height="2.50" fill="#f6f6f6" />
<rect x="455.30" y="372.80" width="2.00" height="35.90" fill="#f4f4f4" />
<rect x="494.70" y="372.80" width="2.00" height="35.90" fill="#cfcfcf" />
<rect x="463.00" y="403.30" width="7.50" height="5.40" fill="#3e3e40" />
<rect x="481.30" y="403.30" width="7.70" height="5.40" fill="#3e3e40" />
<rect x="465.50" y="405.60" width="5.00" height="3.10" fill="#e0e0e0" />
<rect x="481.30" y="405.60" width="5.20" height="3.10" fill="#e0e0e0" />
<polygon points="465.30,395.60 468.30,395.60 466.80,397.80" fill="#6a6a6a" />
<polygon points="482.60,395.60 485.60,395.60 484.10,397.80" fill="#6a6a6a" />
<rect x="458.21" y="408.70" width="1.42" height="5.70" fill="#dadada" rx="0.5" />
<rect x="461.06" y="408.70" width="1.42" height="5.70" fill="#dadada" rx="0.5" />
<rect x="463.90" y="408.70" width="1.42" height="5.70" fill="#dadada" rx="0.5" />
<rect x="466.75" y="408.70" width="1.42" height="5.70" fill="#dadada" rx="0.5" />
<rect x="469.60" y="408.70" width="1.42" height="5.70" fill="#dadada" rx="0.5" />
<rect x="472.44" y="408.70" width="1.42" height="5.70" fill="#dadada" rx="0.5" />
<rect x="475.29" y="408.70" width="1.42" height="5.70" fill="#dadada" rx="0.5" />
<rect x="478.13" y="408.70" width="1.42" height="5.70" fill="#dadada" rx="0.5" />
<rect x="480.98" y="408.70" width="1.42" height="5.70" fill="#dadada" rx="0.5" />
<rect x="483.83" y="408.70" width="1.42" height="5.70" fill="#dadada" rx="0.5" />
<rect x="486.67" y="408.70" width="1.42" height="5.70" fill="#dadada" rx="0.5" />
<rect x="489.52" y="408.70" width="1.42" height="5.70" fill="#dadada" rx="0.5" />
<rect x="492.37" y="408.70" width="1.42" height="5.70" fill="#dadada" rx="0.5" />
<text x="451.20" y="424.00" font-size="7.1" fill="#f4f7f9" text-anchor="start" font-weight="bold" textLength="50.2" lengthAdjust="spacingAndGlyphs" >Power &amp; Touch</text>
<circle cx="517.60" cy="384.20" r="4.60" fill="#1a4f86" />
<circle cx="517.60" cy="384.20" r="1.70" fill="#d5dde3" />
<rect x="508.20" y="400.50" width="14.60" height="5.90" fill="none" rx="1.4" stroke="#f4f7f9" stroke-width="1.4" />
<rect x="509.30" y="401.60" width="3.72" height="3.70" fill="#b9bec3" />
<rect x="517.98" y="401.60" width="3.72" height="3.70" fill="#b9bec3" />
<rect x="513.02" y="401.60" width="4.96" height="3.70" fill="#1f1f21" />
<rect x="508.20" y="407.20" width="14.60" height="5.90" fill="none" rx="1.4" stroke="#f4f7f9" stroke-width="1.4" />
<rect x="509.30" y="408.30" width="3.72" height="3.70" fill="#b9bec3" />
<rect x="517.98" y="408.30" width="3.72" height="3.70" fill="#b9bec3" />
<rect x="513.02" y="408.30" width="4.96" height="3.70" fill="#1f1f21" />
<g clip-path="url(#cpBoard)">
<circle cx="515.20" cy="433.60" r="16.10" fill="#0f4a7c" opacity="0.45"/>
<circle cx="515.50" cy="433.30" r="14.80" fill="url(#gSt1)" />
<circle cx="517.80" cy="434.00" r="14.10" fill="#a6a7a9" />
<circle cx="517.80" cy="434.00" r="13.20" fill="url(#gSt3)" />
<circle cx="517.80" cy="434.00" r="10.60" fill="none" stroke="#b9babc" stroke-width="1.0" />
<circle cx="517.80" cy="433.80" r="7.60" fill="#cfd0d1" />
<circle cx="517.80" cy="433.80" r="6.60" fill="#e9e9e9" />
<circle cx="517.80" cy="433.80" r="5.60" fill="#838486" />
<circle cx="517.80" cy="433.80" r="4.80" fill="#0b0b0b" />
</g>
<rect x="423.40" y="426.20" width="15.10" height="6.80" fill="none" rx="1.4" stroke="#f4f7f9" stroke-width="1.4" />
<rect x="424.50" y="427.30" width="3.87" height="4.60" fill="#b9bec3" />
<rect x="433.53" y="427.30" width="3.87" height="4.60" fill="#b9bec3" />
<rect x="428.37" y="427.30" width="5.16" height="4.60" fill="#2a2a2c" />
<rect x="423.40" y="433.80" width="15.10" height="6.80" fill="none" rx="1.4" stroke="#f4f7f9" stroke-width="1.4" />
<rect x="424.50" y="434.90" width="3.87" height="4.60" fill="#d9dcde" />
<rect x="433.53" y="434.90" width="3.87" height="4.60" fill="#d9dcde" />
<rect x="428.37" y="434.90" width="5.16" height="4.60" fill="#20457a" />
<rect x="423.40" y="441.40" width="15.10" height="6.80" fill="none" rx="1.4" stroke="#f4f7f9" stroke-width="1.4" />
<rect x="424.50" y="442.50" width="3.87" height="4.60" fill="#b9bec3" />
<rect x="433.53" y="442.50" width="3.87" height="4.60" fill="#b9bec3" />
<rect x="428.37" y="442.50" width="5.16" height="4.60" fill="#2a2a2c" />
<rect x="423.40" y="449.00" width="15.10" height="6.80" fill="none" rx="1.4" stroke="#f4f7f9" stroke-width="1.4" />
<rect x="424.50" y="450.10" width="3.87" height="4.60" fill="#b9bec3" />
<rect x="433.53" y="450.10" width="3.87" height="4.60" fill="#b9bec3" />
<rect x="428.37" y="450.10" width="5.16" height="4.60" fill="#2a2a2c" />
<rect x="423.40" y="456.60" width="15.10" height="6.80" fill="none" rx="1.4" stroke="#f4f7f9" stroke-width="1.4" />
<rect x="424.50" y="457.70" width="3.87" height="4.60" fill="#b9bec3" />
<rect x="433.53" y="457.70" width="3.87" height="4.60" fill="#b9bec3" />
<rect x="428.37" y="457.70" width="5.16" height="4.60" fill="#2a2a2c" />
<rect x="423.40" y="464.20" width="15.10" height="6.80" fill="none" rx="1.4" stroke="#f4f7f9" stroke-width="1.4" />
<rect x="424.50" y="465.30" width="3.87" height="4.60" fill="#b9bec3" />
<rect x="433.53" y="465.30" width="3.87" height="4.60" fill="#b9bec3" />
<rect x="428.37" y="465.30" width="5.16" height="4.60" fill="#2a2a2c" />
<rect x="445.20" y="426.20" width="7.20" height="14.10" fill="none" rx="1.4" stroke="#f4f7f9" stroke-width="1.4" />
<rect x="446.30" y="427.30" width="5.00" height="3.57" fill="#d9dcde" />
<rect x="446.30" y="435.63" width="5.00" height="3.57" fill="#d9dcde" />
<rect x="446.30" y="430.87" width="5.00" height="4.76" fill="#b98d68" />
<rect x="453.40" y="426.20" width="7.60" height="14.10" fill="none" rx="1.4" stroke="#f4f7f9" stroke-width="1.4" />
<rect x="454.50" y="427.30" width="5.40" height="3.57" fill="#d9dcde" />
<rect x="454.50" y="435.63" width="5.40" height="3.57" fill="#d9dcde" />
<rect x="454.50" y="430.87" width="5.40" height="4.76" fill="#b98d68" />
<rect x="445.20" y="442.70" width="7.20" height="14.10" fill="none" rx="1.4" stroke="#f4f7f9" stroke-width="1.4" />
<rect x="446.30" y="443.80" width="5.00" height="3.57" fill="#d9dcde" />
<rect x="446.30" y="452.13" width="5.00" height="3.57" fill="#d9dcde" />
<rect x="446.30" y="447.37" width="5.00" height="4.76" fill="#8e9aa0" />
<rect x="453.40" y="442.70" width="7.60" height="14.10" fill="none" rx="1.4" stroke="#f4f7f9" stroke-width="1.4" />
<rect x="454.50" y="443.80" width="5.40" height="3.57" fill="#d9dcde" />
<rect x="454.50" y="452.13" width="5.40" height="3.57" fill="#d9dcde" />
<rect x="454.50" y="447.37" width="5.40" height="4.76" fill="#8e9aa0" />
<rect x="446.20" y="458.20" width="14.60" height="7.10" fill="none" rx="1.4" stroke="#f4f7f9" stroke-width="1.4" />
<rect x="447.30" y="459.30" width="3.72" height="4.90" fill="#b9bec3" />
<rect x="455.98" y="459.30" width="3.72" height="4.90" fill="#b9bec3" />
<rect x="451.02" y="459.30" width="4.96" height="4.90" fill="#2a2a2c" />
<rect x="463.30" y="429.50" width="25.50" height="19.10" fill="#a2a2a4" rx="1.5" />
<rect x="463.30" y="429.50" width="25.50" height="19.10" fill="none" rx="1.5" stroke="#d2d2d4" stroke-width="1.2" />
<text transform="translate(476.00 439.00) rotate(170)" x="0" y="2.97" font-size="8.5" fill="#808082" text-anchor="middle" font-weight="normal">2R2</text>
<rect x="466.40" y="453.20" width="6.40" height="2.44" fill="#dfe3e6" rx="0.5" />
<rect x="466.40" y="457.63" width="6.40" height="2.44" fill="#dfe3e6" rx="0.5" />
<rect x="466.40" y="462.06" width="6.40" height="2.44" fill="#dfe3e6" rx="0.5" />
<rect x="481.20" y="453.20" width="5.40" height="2.44" fill="#dfe3e6" rx="0.5" />
<rect x="481.20" y="457.63" width="5.40" height="2.44" fill="#dfe3e6" rx="0.5" />
<rect x="481.20" y="462.06" width="5.40" height="2.44" fill="#dfe3e6" rx="0.5" />
<rect x="472.60" y="450.70" width="8.80" height="15.50" fill="#1f2023" rx="0.6" />
<circle cx="482.00" cy="468.60" r="0.90" fill="#f4f7f9" />
<rect x="492.60" y="452.20" width="7.40" height="14.40" fill="none" rx="1.4" stroke="#f4f7f9" stroke-width="1.4" />
<rect x="493.70" y="453.30" width="5.20" height="3.66" fill="#d9dcde" />
<rect x="493.70" y="461.84" width="5.20" height="3.66" fill="#d9dcde" />
<rect x="493.70" y="456.96" width="5.20" height="4.88" fill="#b98d68" />
<rect x="254.60" y="459.50" width="6.80" height="14.60" fill="none" rx="1.4" stroke="#f4f7f9" stroke-width="1.4" />
<rect x="255.70" y="460.60" width="4.60" height="3.72" fill="#d9dcde" />
<rect x="255.70" y="469.28" width="4.60" height="3.72" fill="#d9dcde" />
<rect x="255.70" y="464.32" width="4.60" height="4.96" fill="#8d8d8f" />
<rect x="262.45" y="459.50" width="6.80" height="14.60" fill="none" rx="1.4" stroke="#f4f7f9" stroke-width="1.4" />
<rect x="263.55" y="460.60" width="4.60" height="3.72" fill="#d9dcde" />
<rect x="263.55" y="469.28" width="4.60" height="3.72" fill="#d9dcde" />
<rect x="263.55" y="464.32" width="4.60" height="4.96" fill="#b98d68" />
<rect x="270.30" y="459.50" width="6.80" height="14.60" fill="none" rx="1.4" stroke="#f4f7f9" stroke-width="1.4" />
<rect x="271.40" y="460.60" width="4.60" height="3.72" fill="#d9dcde" />
<rect x="271.40" y="469.28" width="4.60" height="3.72" fill="#d9dcde" />
<rect x="271.40" y="464.32" width="4.60" height="4.96" fill="#8d8d8f" />
<rect x="278.15" y="459.50" width="6.80" height="14.60" fill="none" rx="1.4" stroke="#f4f7f9" stroke-width="1.4" />
<rect x="279.25" y="460.60" width="4.60" height="3.72" fill="#d9dcde" />
<rect x="279.25" y="469.28" width="4.60" height="3.72" fill="#d9dcde" />
<rect x="279.25" y="464.32" width="4.60" height="4.96" fill="#b98d68" />
<rect x="286.00" y="459.50" width="6.80" height="14.60" fill="none" rx="1.4" stroke="#f4f7f9" stroke-width="1.4" />
<rect x="287.10" y="460.60" width="4.60" height="3.72" fill="#b9bec3" />
<rect x="287.10" y="469.28" width="4.60" height="3.72" fill="#b9bec3" />
<rect x="287.10" y="464.32" width="4.60" height="4.96" fill="#3a3a3c" />
<rect x="293.85" y="459.50" width="6.80" height="14.60" fill="none" rx="1.4" stroke="#f4f7f9" stroke-width="1.4" />
<rect x="294.95" y="460.60" width="4.60" height="3.72" fill="#b9bec3" />
<rect x="294.95" y="469.28" width="4.60" height="3.72" fill="#b9bec3" />
<rect x="294.95" y="464.32" width="4.60" height="4.96" fill="#3a3a3c" />
<rect x="301.70" y="459.50" width="6.80" height="14.60" fill="none" rx="1.4" stroke="#f4f7f9" stroke-width="1.4" />
<rect x="302.80" y="460.60" width="4.60" height="3.72" fill="#d9dcde" />
<rect x="302.80" y="469.28" width="4.60" height="3.72" fill="#d9dcde" />
<rect x="302.80" y="464.32" width="4.60" height="4.96" fill="#6f6f71" />
<rect x="309.55" y="459.50" width="6.80" height="14.60" fill="none" rx="1.4" stroke="#f4f7f9" stroke-width="1.4" />
<rect x="310.65" y="460.60" width="4.60" height="3.72" fill="#d9dcde" />
<rect x="310.65" y="469.28" width="4.60" height="3.72" fill="#d9dcde" />
<rect x="310.65" y="464.32" width="4.60" height="4.96" fill="#6f6f71" />
<rect x="317.40" y="459.50" width="6.80" height="14.60" fill="none" rx="1.4" stroke="#f4f7f9" stroke-width="1.4" />
<rect x="318.50" y="460.60" width="4.60" height="3.72" fill="#d9dcde" />
<rect x="318.50" y="469.28" width="4.60" height="3.72" fill="#d9dcde" />
<rect x="318.50" y="464.32" width="4.60" height="4.96" fill="#b98d68" />
<rect x="325.25" y="459.50" width="6.80" height="14.60" fill="none" rx="1.4" stroke="#f4f7f9" stroke-width="1.4" />
<rect x="326.35" y="460.60" width="4.60" height="3.72" fill="#d9dcde" />
<rect x="326.35" y="469.28" width="4.60" height="3.72" fill="#d9dcde" />
<rect x="326.35" y="464.32" width="4.60" height="4.96" fill="#b98d68" />
<rect x="200.40" y="455.20" width="7.00" height="14.60" fill="none" rx="1.4" stroke="#f4f7f9" stroke-width="1.4" />
<rect x="201.50" y="456.30" width="4.80" height="3.72" fill="#b9bec3" />
<rect x="201.50" y="464.98" width="4.80" height="3.72" fill="#b9bec3" />
<rect x="201.50" y="460.02" width="4.80" height="4.96" fill="#55565a" />
<rect x="208.50" y="455.20" width="7.00" height="14.60" fill="none" rx="1.4" stroke="#f4f7f9" stroke-width="1.4" />
<rect x="209.60" y="456.30" width="4.80" height="3.72" fill="#d9dcde" />
<rect x="209.60" y="464.98" width="4.80" height="3.72" fill="#d9dcde" />
<rect x="209.60" y="460.02" width="4.80" height="4.96" fill="#6f7074" />
<rect x="216.60" y="455.20" width="7.00" height="14.60" fill="none" rx="1.4" stroke="#f4f7f9" stroke-width="1.4" />
<rect x="217.70" y="456.30" width="4.80" height="3.72" fill="#b9bec3" />
<rect x="217.70" y="464.98" width="4.80" height="3.72" fill="#b9bec3" />
<rect x="217.70" y="460.02" width="4.80" height="4.96" fill="#55565a" />
<rect x="224.70" y="455.20" width="7.00" height="14.60" fill="none" rx="1.4" stroke="#f4f7f9" stroke-width="1.4" />
<rect x="225.80" y="456.30" width="4.80" height="3.72" fill="#d9dcde" />
<rect x="225.80" y="464.98" width="4.80" height="3.72" fill="#d9dcde" />
<rect x="225.80" y="460.02" width="4.80" height="4.96" fill="#6f7074" />
<rect x="232.80" y="455.20" width="7.00" height="14.60" fill="none" rx="1.4" stroke="#f4f7f9" stroke-width="1.4" />
<rect x="233.90" y="456.30" width="4.80" height="3.72" fill="#b9bec3" />
<rect x="233.90" y="464.98" width="4.80" height="3.72" fill="#b9bec3" />
<rect x="233.90" y="460.02" width="4.80" height="4.96" fill="#55565a" />
<rect x="240.90" y="455.20" width="7.00" height="14.60" fill="none" rx="1.4" stroke="#f4f7f9" stroke-width="1.4" />
<rect x="242.00" y="456.30" width="4.80" height="3.72" fill="#b9bec3" />
<rect x="242.00" y="464.98" width="4.80" height="3.72" fill="#b9bec3" />
<rect x="242.00" y="460.02" width="4.80" height="4.96" fill="#55565a" />
<rect x="161.30" y="471.80" width="3.87" height="3.90" fill="#d9dcde" />
<rect x="170.33" y="471.80" width="3.87" height="3.90" fill="#d9dcde" />
<rect x="165.17" y="471.80" width="5.16" height="3.90" fill="#b98d68" />
<rect x="159.50" y="470.00" width="16.50" height="7.50" fill="none" rx="3" stroke="#f4f7f9" stroke-width="0.8" />
<rect x="180.20" y="466.20" width="15.10" height="7.60" fill="none" rx="1.4" stroke="#f4f7f9" stroke-width="1.4" />
<rect x="181.30" y="467.30" width="3.87" height="5.40" fill="#d9dcde" />
<rect x="190.33" y="467.30" width="3.87" height="5.40" fill="#d9dcde" />
<rect x="185.17" y="467.30" width="5.16" height="5.40" fill="#1f3f70" />
<rect x="171.20" y="477.70" width="6.80" height="14.10" fill="none" rx="1.4" stroke="#f4f7f9" stroke-width="1.4" />
<rect x="172.30" y="478.80" width="4.60" height="3.57" fill="#b9bec3" />
<rect x="172.30" y="487.13" width="4.60" height="3.57" fill="#b9bec3" />
<rect x="172.30" y="482.37" width="4.60" height="4.76" fill="#2a2a2c" />
<rect x="178.90" y="477.70" width="6.80" height="14.10" fill="none" rx="1.4" stroke="#f4f7f9" stroke-width="1.4" />
<rect x="180.00" y="478.80" width="4.60" height="3.57" fill="#b9bec3" />
<rect x="180.00" y="487.13" width="4.60" height="3.57" fill="#b9bec3" />
<rect x="180.00" y="482.37" width="4.60" height="4.76" fill="#2a2a2c" />
<rect x="186.60" y="477.70" width="6.80" height="14.10" fill="none" rx="1.4" stroke="#f4f7f9" stroke-width="1.4" />
<rect x="187.70" y="478.80" width="4.60" height="3.57" fill="#b9bec3" />
<rect x="187.70" y="487.13" width="4.60" height="3.57" fill="#b9bec3" />
<rect x="187.70" y="482.37" width="4.60" height="4.76" fill="#2a2a2c" />
<rect x="201.48" y="474.50" width="3.52" height="11.50" fill="#e8eaec" rx="0.5" />
<rect x="207.55" y="474.50" width="3.52" height="11.50" fill="#e8eaec" rx="0.5" />
<rect x="213.63" y="474.50" width="3.52" height="11.50" fill="#e8eaec" rx="0.5" />
<rect x="219.70" y="474.50" width="3.52" height="11.50" fill="#e8eaec" rx="0.5" />
<rect x="225.78" y="474.50" width="3.52" height="11.50" fill="#e8eaec" rx="0.5" />
<rect x="231.85" y="474.50" width="3.52" height="11.50" fill="#e8eaec" rx="0.5" />
<rect x="237.93" y="474.50" width="3.52" height="11.50" fill="#e8eaec" rx="0.5" />
<rect x="244.00" y="474.50" width="3.52" height="11.50" fill="#e8eaec" rx="0.5" />
<rect x="201.48" y="501.00" width="3.52" height="9.30" fill="#e8eaec" rx="0.5" />
<rect x="207.55" y="501.00" width="3.52" height="9.30" fill="#e8eaec" rx="0.5" />
<rect x="213.63" y="501.00" width="3.52" height="9.30" fill="#e8eaec" rx="0.5" />
<rect x="219.70" y="501.00" width="3.52" height="9.30" fill="#e8eaec" rx="0.5" />
<rect x="225.78" y="501.00" width="3.52" height="9.30" fill="#e8eaec" rx="0.5" />
<rect x="231.85" y="501.00" width="3.52" height="9.30" fill="#e8eaec" rx="0.5" />
<rect x="237.93" y="501.00" width="3.52" height="9.30" fill="#e8eaec" rx="0.5" />
<rect x="244.00" y="501.00" width="3.52" height="9.30" fill="#e8eaec" rx="0.5" />
<rect x="199.80" y="484.60" width="48.60" height="17.60" fill="#1e1f22" rx="0.8" />
<circle cx="203.50" cy="498.50" r="0.90" fill="#55565a" />
<text x="224.00" y="495.50" font-size="5" fill="#3e3f43" text-anchor="middle" font-weight="normal" >WK2204</text>
<rect x="165.26" y="495.20" width="3.48" height="8.80" fill="#e8eaec" rx="0.5" />
<rect x="171.26" y="495.20" width="3.48" height="8.80" fill="#e8eaec" rx="0.5" />
<rect x="177.26" y="495.20" width="3.48" height="8.80" fill="#e8eaec" rx="0.5" />
<rect x="183.26" y="495.20" width="3.48" height="8.80" fill="#e8eaec" rx="0.5" />
<rect x="165.26" y="521.00" width="3.48" height="6.60" fill="#e8eaec" rx="0.5" />
<rect x="171.26" y="521.00" width="3.48" height="6.60" fill="#e8eaec" rx="0.5" />
<rect x="177.26" y="521.00" width="3.48" height="6.60" fill="#e8eaec" rx="0.5" />
<rect x="183.26" y="521.00" width="3.48" height="6.60" fill="#e8eaec" rx="0.5" />
<rect x="163.80" y="502.60" width="24.40" height="19.60" fill="#1e1f22" rx="0.8" />
<circle cx="184.50" cy="509.50" r="0.90" fill="#55565a" />
<rect x="188.40" y="504.00" width="1.60" height="4.00" fill="#f4f7f9" />
<rect x="188.40" y="513.00" width="1.60" height="4.00" fill="#f4f7f9" />
<rect x="201.60" y="515.50" width="7.10" height="14.80" fill="none" rx="1.4" stroke="#f4f7f9" stroke-width="1.4" />
<rect x="202.70" y="516.60" width="4.90" height="3.78" fill="#b9bec3" />
<rect x="202.70" y="525.42" width="4.90" height="3.78" fill="#b9bec3" />
<rect x="202.70" y="520.38" width="4.90" height="5.04" fill="#3a3a3c" />
<rect x="209.75" y="515.50" width="7.10" height="14.80" fill="none" rx="1.4" stroke="#f4f7f9" stroke-width="1.4" />
<rect x="210.85" y="516.60" width="4.90" height="3.78" fill="#d9dcde" />
<rect x="210.85" y="525.42" width="4.90" height="3.78" fill="#d9dcde" />
<rect x="210.85" y="520.38" width="4.90" height="5.04" fill="#b98d68" />
<rect x="217.90" y="515.50" width="7.10" height="14.80" fill="none" rx="1.4" stroke="#f4f7f9" stroke-width="1.4" />
<rect x="219.00" y="516.60" width="4.90" height="3.78" fill="#d9dcde" />
<rect x="219.00" y="525.42" width="4.90" height="3.78" fill="#d9dcde" />
<rect x="219.00" y="520.38" width="4.90" height="5.04" fill="#b98d68" />
<rect x="226.05" y="515.50" width="7.10" height="14.80" fill="none" rx="1.4" stroke="#f4f7f9" stroke-width="1.4" />
<rect x="227.15" y="516.60" width="4.90" height="3.78" fill="#d9dcde" />
<rect x="227.15" y="525.42" width="4.90" height="3.78" fill="#d9dcde" />
<rect x="227.15" y="520.38" width="4.90" height="5.04" fill="#b98d68" />
<rect x="234.20" y="515.50" width="7.10" height="14.80" fill="none" rx="1.4" stroke="#f4f7f9" stroke-width="1.4" />
<rect x="235.30" y="516.60" width="4.90" height="3.78" fill="#d9dcde" />
<rect x="235.30" y="525.42" width="4.90" height="3.78" fill="#d9dcde" />
<rect x="235.30" y="520.38" width="4.90" height="5.04" fill="#b98d68" />
<rect x="242.35" y="515.50" width="7.10" height="14.80" fill="none" rx="1.4" stroke="#f4f7f9" stroke-width="1.4" />
<rect x="243.45" y="516.60" width="4.90" height="3.78" fill="#d9dcde" />
<rect x="243.45" y="525.42" width="4.90" height="3.78" fill="#d9dcde" />
<rect x="243.45" y="520.38" width="4.90" height="5.04" fill="#8a8a8c" />
<rect x="250.50" y="515.50" width="7.10" height="14.80" fill="none" rx="1.4" stroke="#f4f7f9" stroke-width="1.4" />
<rect x="251.60" y="516.60" width="4.90" height="3.78" fill="#d9dcde" />
<rect x="251.60" y="525.42" width="4.90" height="3.78" fill="#d9dcde" />
<rect x="251.60" y="520.38" width="4.90" height="5.04" fill="#b98d68" />
<rect x="161.20" y="531.20" width="6.80" height="14.60" fill="none" rx="1.4" stroke="#f4f7f9" stroke-width="1.4" />
<rect x="162.30" y="532.30" width="4.60" height="3.72" fill="#d9dcde" />
<rect x="162.30" y="540.98" width="4.60" height="3.72" fill="#d9dcde" />
<rect x="162.30" y="536.02" width="4.60" height="4.96" fill="#b98d68" />
<rect x="169.00" y="531.20" width="6.80" height="14.60" fill="none" rx="1.4" stroke="#f4f7f9" stroke-width="1.4" />
<rect x="170.10" y="532.30" width="4.60" height="3.72" fill="#b9bec3" />
<rect x="170.10" y="540.98" width="4.60" height="3.72" fill="#b9bec3" />
<rect x="170.10" y="536.02" width="4.60" height="4.96" fill="#55565a" />
<rect x="176.80" y="531.20" width="6.80" height="14.60" fill="none" rx="1.4" stroke="#f4f7f9" stroke-width="1.4" />
<rect x="177.90" y="532.30" width="4.60" height="3.72" fill="#d9dcde" />
<rect x="177.90" y="540.98" width="4.60" height="3.72" fill="#d9dcde" />
<rect x="177.90" y="536.02" width="4.60" height="4.96" fill="#d8c9a0" />
<rect x="184.60" y="531.20" width="6.80" height="14.60" fill="none" rx="1.4" stroke="#f4f7f9" stroke-width="1.4" />
<rect x="185.70" y="532.30" width="4.60" height="3.72" fill="#b9bec3" />
<rect x="185.70" y="540.98" width="4.60" height="3.72" fill="#b9bec3" />
<rect x="185.70" y="536.02" width="4.60" height="4.96" fill="#55565a" />
<rect x="163.39" y="551.60" width="1.58" height="8.40" fill="#e4e6e8" rx="0.5" />
<rect x="166.55" y="551.60" width="1.58" height="8.40" fill="#e4e6e8" rx="0.5" />
<rect x="169.71" y="551.60" width="1.58" height="8.40" fill="#e4e6e8" rx="0.5" />
<rect x="172.87" y="551.60" width="1.58" height="8.40" fill="#e4e6e8" rx="0.5" />
<rect x="176.03" y="551.60" width="1.58" height="8.40" fill="#e4e6e8" rx="0.5" />
<rect x="179.19" y="551.60" width="1.58" height="8.40" fill="#e4e6e8" rx="0.5" />
<rect x="182.35" y="551.60" width="1.58" height="8.40" fill="#e4e6e8" rx="0.5" />
<rect x="185.51" y="551.60" width="1.58" height="8.40" fill="#e4e6e8" rx="0.5" />
<rect x="188.67" y="551.60" width="1.58" height="8.40" fill="#e4e6e8" rx="0.5" />
<rect x="191.83" y="551.60" width="1.58" height="8.40" fill="#e4e6e8" rx="0.5" />
<rect x="163.39" y="578.60" width="1.58" height="7.40" fill="#e4e6e8" rx="0.5" />
<rect x="166.55" y="578.60" width="1.58" height="7.40" fill="#e4e6e8" rx="0.5" />
<rect x="169.71" y="578.60" width="1.58" height="7.40" fill="#e4e6e8" rx="0.5" />
<rect x="172.87" y="578.60" width="1.58" height="7.40" fill="#e4e6e8" rx="0.5" />
<rect x="176.03" y="578.60" width="1.58" height="7.40" fill="#e4e6e8" rx="0.5" />
<rect x="179.19" y="578.60" width="1.58" height="7.40" fill="#e4e6e8" rx="0.5" />
<rect x="182.35" y="578.60" width="1.58" height="7.40" fill="#e4e6e8" rx="0.5" />
<rect x="185.51" y="578.60" width="1.58" height="7.40" fill="#e4e6e8" rx="0.5" />
<rect x="188.67" y="578.60" width="1.58" height="7.40" fill="#e4e6e8" rx="0.5" />
<rect x="191.83" y="578.60" width="1.58" height="7.40" fill="#e4e6e8" rx="0.5" />
<rect x="162.50" y="559.20" width="31.70" height="20.20" fill="#1e1f22" rx="0.8" />
<rect x="162.20" y="592.20" width="7.00" height="14.20" fill="none" rx="1.4" stroke="#f4f7f9" stroke-width="1.4" />
<rect x="163.30" y="593.30" width="4.80" height="3.60" fill="#b9bec3" />
<rect x="163.30" y="601.70" width="4.80" height="3.60" fill="#b9bec3" />
<rect x="163.30" y="596.90" width="4.80" height="4.80" fill="#3a3a3c" />
<rect x="170.20" y="592.20" width="7.00" height="14.20" fill="none" rx="1.4" stroke="#f4f7f9" stroke-width="1.4" />
<rect x="171.30" y="593.30" width="4.80" height="3.60" fill="#b9bec3" />
<rect x="171.30" y="601.70" width="4.80" height="3.60" fill="#b9bec3" />
<rect x="171.30" y="596.90" width="4.80" height="4.80" fill="#3a3a3c" />
<rect x="178.20" y="592.20" width="7.00" height="14.20" fill="none" rx="1.4" stroke="#f4f7f9" stroke-width="1.4" />
<rect x="179.30" y="593.30" width="4.80" height="3.60" fill="#b9bec3" />
<rect x="179.30" y="601.70" width="4.80" height="3.60" fill="#b9bec3" />
<rect x="179.30" y="596.90" width="4.80" height="4.80" fill="#3a3a3c" />
<rect x="188.30" y="594.30" width="4.00" height="3.42" fill="#d9dcde" />
<rect x="188.30" y="602.28" width="4.00" height="3.42" fill="#d9dcde" />
<rect x="188.30" y="597.72" width="4.00" height="4.56" fill="#b98d68" />
<rect x="186.50" y="592.50" width="7.60" height="15.00" fill="none" rx="3" stroke="#f4f7f9" stroke-width="0.8" />
<rect x="196.60" y="594.30" width="4.00" height="3.42" fill="#d9dcde" />
<rect x="196.60" y="602.28" width="4.00" height="3.42" fill="#d9dcde" />
<rect x="196.60" y="597.72" width="4.00" height="4.56" fill="#b98d68" />
<rect x="194.80" y="592.50" width="7.60" height="15.00" fill="none" rx="3" stroke="#f4f7f9" stroke-width="0.8" />
<rect x="162.20" y="609.20" width="15.60" height="7.20" fill="none" rx="1.4" stroke="#f4f7f9" stroke-width="1.4" />
<rect x="163.30" y="610.30" width="4.02" height="5.00" fill="#d9dcde" />
<rect x="172.68" y="610.30" width="4.02" height="5.00" fill="#d9dcde" />
<rect x="167.32" y="610.30" width="5.36" height="5.00" fill="#8a8a8c" />
<rect x="180.20" y="609.20" width="13.60" height="7.20" fill="none" rx="1.4" stroke="#f4f7f9" stroke-width="1.4" />
<rect x="181.30" y="610.30" width="3.42" height="5.00" fill="#d9dcde" />
<rect x="189.28" y="610.30" width="3.42" height="5.00" fill="#d9dcde" />
<rect x="184.72" y="610.30" width="4.56" height="5.00" fill="#c9b8a6" />
<rect x="195.70" y="609.20" width="15.10" height="7.20" fill="none" rx="1.4" stroke="#f4f7f9" stroke-width="1.4" />
<rect x="196.80" y="610.30" width="3.87" height="5.00" fill="#d9dcde" />
<rect x="205.83" y="610.30" width="3.87" height="5.00" fill="#d9dcde" />
<rect x="200.67" y="610.30" width="5.16" height="5.00" fill="#8a8a8c" />
<rect x="210.00" y="539.00" width="45.50" height="29.00" fill="none" stroke="#155c92" stroke-width="1.2" />
<rect x="221.81" y="533.60" width="1.32" height="3.60" fill="#e8eaec" rx="0.5" />
<rect x="224.75" y="533.60" width="1.32" height="3.60" fill="#e8eaec" rx="0.5" />
<rect x="227.68" y="533.60" width="1.32" height="3.60" fill="#e8eaec" rx="0.5" />
<rect x="230.62" y="533.60" width="1.32" height="3.60" fill="#e8eaec" rx="0.5" />
<rect x="233.56" y="533.60" width="1.32" height="3.60" fill="#e8eaec" rx="0.5" />
<rect x="236.50" y="533.60" width="1.32" height="3.60" fill="#e8eaec" rx="0.5" />
<rect x="239.43" y="533.60" width="1.32" height="3.60" fill="#e8eaec" rx="0.5" />
<rect x="242.37" y="533.60" width="1.32" height="3.60" fill="#e8eaec" rx="0.5" />
<path d="M204.5,553 Q204.5,547.3 209,547.3 H256.5 Q260.8,547.3 260.8,553 Q260.8,558.8 256.5,558.8 H209 Q204.5,558.8 204.5,553 Z" fill="#ededed" />
<rect x="211.30" y="540.20" width="42.70" height="27.20" fill="#f4f4f4" rx="1" />
<rect x="211.30" y="563.60" width="42.70" height="3.80" fill="#dadada" />
<path d="M214.7,536.7 H249.3 V549.3 H246 V545.5 H218 V549.3 H214.7 Z" fill="#3a3d45" />
<rect x="215.50" y="537.20" width="33.00" height="2.00" fill="#4d515a" />
<rect x="216.00" y="576.00" width="32.80" height="29.40" fill="#0f2f4c" rx="2" />
<path d="M219.3,563.4 H245.3 V577 Q245.3,579.5 247,580.5 Q248.8,582 248.8,584 V603 Q248.8,605.4 246.5,605.4 H218.3 Q216,605.4 216,603 V590 Q216,588 217.5,587.2 Q219.3,586 219.3,583 Z" fill="#cf7717" />
<rect x="219.30" y="563.40" width="26.00" height="7.10" fill="#e08a2c" />
<rect x="221.00" y="563.60" width="1.10" height="9.50" fill="#a85b0e" />
<rect x="223.60" y="563.60" width="1.10" height="9.50" fill="#a85b0e" />
<rect x="226.20" y="563.60" width="1.10" height="9.50" fill="#a85b0e" />
<rect x="228.80" y="563.60" width="1.10" height="9.50" fill="#a85b0e" />
<rect x="231.40" y="563.60" width="1.10" height="9.50" fill="#a85b0e" />
<rect x="234.00" y="563.60" width="1.10" height="9.50" fill="#a85b0e" />
<rect x="236.60" y="563.60" width="1.10" height="9.50" fill="#a85b0e" />
<rect x="239.20" y="563.60" width="1.10" height="9.50" fill="#a85b0e" />
<rect x="241.80" y="563.60" width="1.10" height="9.50" fill="#a85b0e" />
<rect x="217.00" y="588.50" width="31.00" height="7.50" fill="#c9a61e" opacity="0.55" />
<circle cx="224.00" cy="573.50" r="0.80" fill="#f3d9a4" />
<circle cx="235.50" cy="572.00" r="0.80" fill="#f3d9a4" />
<circle cx="224.50" cy="582.00" r="0.80" fill="#f3d9a4" />
<circle cx="240.00" cy="581.50" r="0.80" fill="#f3d9a4" />
<rect x="229.00" y="594.00" width="3.00" height="4.60" fill="#3a3a1c" />
<rect x="237.00" y="595.50" width="3.50" height="5.50" fill="#e0c02e" />
<rect x="220.00" y="592.50" width="6.00" height="2.50" fill="#e3c53a" />
<path d="M216.5,580 Q220,579 219.8,586 L217,590 Z" fill="#e6e9ec" />
<rect x="282.20" y="498.20" width="15.20" height="6.90" fill="none" rx="1.4" stroke="#f4f7f9" stroke-width="1.4" />
<rect x="283.30" y="499.30" width="3.90" height="4.70" fill="#d9dcde" />
<rect x="292.40" y="499.30" width="3.90" height="4.70" fill="#d9dcde" />
<rect x="287.20" y="499.30" width="5.20" height="4.70" fill="#b98d68" />
<rect x="282.20" y="505.95" width="15.20" height="6.90" fill="none" rx="1.4" stroke="#f4f7f9" stroke-width="1.4" />
<rect x="283.30" y="507.05" width="3.90" height="4.70" fill="#d9dcde" />
<rect x="292.40" y="507.05" width="3.90" height="4.70" fill="#d9dcde" />
<rect x="287.20" y="507.05" width="5.20" height="4.70" fill="#b98d68" />
<rect x="282.20" y="513.70" width="15.20" height="6.90" fill="none" rx="1.4" stroke="#f4f7f9" stroke-width="1.4" />
<rect x="283.30" y="514.80" width="3.90" height="4.70" fill="#b9bec3" />
<rect x="292.40" y="514.80" width="3.90" height="4.70" fill="#b9bec3" />
<rect x="287.20" y="514.80" width="5.20" height="4.70" fill="#2a2a2c" />
<rect x="282.20" y="521.45" width="15.20" height="6.90" fill="none" rx="1.4" stroke="#f4f7f9" stroke-width="1.4" />
<rect x="283.30" y="522.55" width="3.90" height="4.70" fill="#b9bec3" />
<rect x="292.40" y="522.55" width="3.90" height="4.70" fill="#b9bec3" />
<rect x="287.20" y="522.55" width="5.20" height="4.70" fill="#2a2a2c" />
<rect x="282.20" y="529.20" width="15.20" height="6.90" fill="none" rx="1.4" stroke="#f4f7f9" stroke-width="1.4" />
<rect x="283.30" y="530.30" width="3.90" height="4.70" fill="#b9bec3" />
<rect x="292.40" y="530.30" width="3.90" height="4.70" fill="#b9bec3" />
<rect x="287.20" y="530.30" width="5.20" height="4.70" fill="#2a2a2c" />
<rect x="282.20" y="536.95" width="15.20" height="6.90" fill="none" rx="1.4" stroke="#f4f7f9" stroke-width="1.4" />
<rect x="283.30" y="538.05" width="3.90" height="4.70" fill="#b9bec3" />
<rect x="292.40" y="538.05" width="3.90" height="4.70" fill="#b9bec3" />
<rect x="287.20" y="538.05" width="5.20" height="4.70" fill="#2a2a2c" />
<rect x="282.20" y="544.70" width="15.20" height="6.90" fill="none" rx="1.4" stroke="#f4f7f9" stroke-width="1.4" />
<rect x="283.30" y="545.80" width="3.90" height="4.70" fill="#d9dcde" />
<rect x="292.40" y="545.80" width="3.90" height="4.70" fill="#d9dcde" />
<rect x="287.20" y="545.80" width="5.20" height="4.70" fill="#b98d68" />
<rect x="282.20" y="552.45" width="15.20" height="6.90" fill="none" rx="1.4" stroke="#f4f7f9" stroke-width="1.4" />
<rect x="283.30" y="553.55" width="3.90" height="4.70" fill="#b9bec3" />
<rect x="292.40" y="553.55" width="3.90" height="4.70" fill="#b9bec3" />
<rect x="287.20" y="553.55" width="5.20" height="4.70" fill="#2a2a2c" />
<rect x="282.20" y="560.20" width="15.20" height="6.90" fill="none" rx="1.4" stroke="#f4f7f9" stroke-width="1.4" />
<rect x="283.30" y="561.30" width="3.90" height="4.70" fill="#b9bec3" />
<rect x="292.40" y="561.30" width="3.90" height="4.70" fill="#b9bec3" />
<rect x="287.20" y="561.30" width="5.20" height="4.70" fill="#2a2a2c" />
<rect x="282.20" y="567.95" width="15.20" height="6.90" fill="none" rx="1.4" stroke="#f4f7f9" stroke-width="1.4" />
<rect x="283.30" y="569.05" width="3.90" height="4.70" fill="#d9dcde" />
<rect x="292.40" y="569.05" width="3.90" height="4.70" fill="#d9dcde" />
<rect x="287.20" y="569.05" width="5.20" height="4.70" fill="#b98d68" />
<rect x="282.20" y="575.70" width="15.20" height="6.90" fill="none" rx="1.4" stroke="#f4f7f9" stroke-width="1.4" />
<rect x="283.30" y="576.80" width="3.90" height="4.70" fill="#b9bec3" />
<rect x="292.40" y="576.80" width="3.90" height="4.70" fill="#b9bec3" />
<rect x="287.20" y="576.80" width="5.20" height="4.70" fill="#2a2a2c" />
<rect x="282.20" y="583.45" width="15.20" height="6.90" fill="none" rx="1.4" stroke="#f4f7f9" stroke-width="1.4" />
<rect x="283.30" y="584.55" width="3.90" height="4.70" fill="#b9bec3" />
<rect x="292.40" y="584.55" width="3.90" height="4.70" fill="#b9bec3" />
<rect x="287.20" y="584.55" width="5.20" height="4.70" fill="#2a2a2c" />
<rect x="261.20" y="480.20" width="7.40" height="14.60" fill="none" rx="1.4" stroke="#f4f7f9" stroke-width="1.4" />
<rect x="262.30" y="481.30" width="5.20" height="3.72" fill="#d9dcde" />
<rect x="262.30" y="489.98" width="5.20" height="3.72" fill="#d9dcde" />
<rect x="262.30" y="485.02" width="5.20" height="4.96" fill="#8a8a8c" />
<rect x="269.60" y="480.20" width="7.40" height="14.60" fill="none" rx="1.4" stroke="#f4f7f9" stroke-width="1.4" />
<rect x="270.70" y="481.30" width="5.20" height="3.72" fill="#d9dcde" />
<rect x="270.70" y="489.98" width="5.20" height="3.72" fill="#d9dcde" />
<rect x="270.70" y="485.02" width="5.20" height="4.96" fill="#8a8a8c" />
<rect x="280.00" y="481.00" width="9.00" height="3.60" fill="#e4e6e8" rx="1" />
<rect x="280.00" y="490.40" width="9.00" height="3.60" fill="#e4e6e8" rx="1" />
<rect x="294.00" y="485.60" width="7.40" height="3.60" fill="#e4e6e8" rx="1" />
<rect x="288.00" y="480.00" width="7.00" height="14.40" fill="#1e1f22" rx="0.6" />
<rect x="262.60" y="498.60" width="4.40" height="8.20" fill="#d9dcde" rx="1.2" />
<rect x="272.20" y="498.60" width="4.40" height="8.20" fill="#d9dcde" rx="1.2" />
<rect x="267.40" y="512.00" width="4.40" height="7.60" fill="#d9dcde" rx="1.2" />
<rect x="261.80" y="505.60" width="16.00" height="6.40" fill="#26272b" rx="0.6" />
<rect x="262.20" y="522.20" width="16.80" height="7.80" fill="none" rx="1.4" stroke="#f4f7f9" stroke-width="1.4" />
<rect x="263.30" y="523.30" width="4.38" height="5.60" fill="#b9bec3" />
<rect x="273.52" y="523.30" width="4.38" height="5.60" fill="#b9bec3" />
<rect x="267.68" y="523.30" width="5.84" height="5.60" fill="#2a2a2c" />
<rect x="265.80" y="563.00" width="4.40" height="8.20" fill="#d9dcde" rx="1.2" />
<rect x="275.40" y="563.00" width="4.40" height="8.20" fill="#d9dcde" rx="1.2" />
<rect x="270.60" y="576.40" width="4.40" height="7.60" fill="#d9dcde" rx="1.2" />
<rect x="265.00" y="570.00" width="16.00" height="6.40" fill="#26272b" rx="0.6" />
<rect x="263.20" y="585.60" width="16.60" height="7.80" fill="none" rx="1.4" stroke="#f4f7f9" stroke-width="1.4" />
<rect x="264.30" y="586.70" width="4.32" height="5.60" fill="#b9bec3" />
<rect x="274.38" y="586.70" width="4.32" height="5.60" fill="#b9bec3" />
<rect x="268.62" y="586.70" width="5.76" height="5.60" fill="#3a3a3c" />
<rect x="263.30" y="597.80" width="5.40" height="3.87" fill="#d9dcde" />
<rect x="263.30" y="606.83" width="5.40" height="3.87" fill="#d9dcde" />
<rect x="263.30" y="601.67" width="5.40" height="5.16" fill="#b98d68" />
<rect x="261.50" y="596.00" width="9.00" height="16.50" fill="none" rx="3.5" stroke="#f4f7f9" stroke-width="0.8" />
<rect x="272.50" y="598.77" width="5.90" height="2.33" fill="#e4e6e8" rx="0.5" />
<rect x="272.50" y="603.43" width="5.90" height="2.33" fill="#e4e6e8" rx="0.5" />
<rect x="272.50" y="608.10" width="5.90" height="2.33" fill="#e4e6e8" rx="0.5" />
<rect x="285.00" y="598.77" width="5.60" height="2.33" fill="#e4e6e8" rx="0.5" />
<rect x="285.00" y="603.43" width="5.60" height="2.33" fill="#e4e6e8" rx="0.5" />
<rect x="285.00" y="608.10" width="5.60" height="2.33" fill="#e4e6e8" rx="0.5" />
<rect x="278.00" y="596.60" width="7.40" height="16.00" fill="#1e1f22" rx="0.6" />
<rect x="317.78" y="491.40" width="1.27" height="9.60" fill="#d9dcde" rx="0.5" />
<rect x="320.22" y="491.40" width="1.27" height="9.60" fill="#d9dcde" rx="0.5" />
<rect x="322.66" y="491.40" width="1.27" height="9.60" fill="#d9dcde" rx="0.5" />
<rect x="325.10" y="491.40" width="1.27" height="9.60" fill="#d9dcde" rx="0.5" />
<rect x="327.53" y="491.40" width="1.27" height="9.60" fill="#d9dcde" rx="0.5" />
<rect x="329.97" y="491.40" width="1.27" height="9.60" fill="#d9dcde" rx="0.5" />
<rect x="332.41" y="491.40" width="1.27" height="9.60" fill="#d9dcde" rx="0.5" />
<rect x="334.84" y="491.40" width="1.27" height="9.60" fill="#d9dcde" rx="0.5" />
<rect x="337.28" y="491.40" width="1.27" height="9.60" fill="#d9dcde" rx="0.5" />
<rect x="339.72" y="491.40" width="1.27" height="9.60" fill="#d9dcde" rx="0.5" />
<rect x="342.15" y="491.40" width="1.27" height="9.60" fill="#d9dcde" rx="0.5" />
<rect x="344.59" y="491.40" width="1.27" height="9.60" fill="#d9dcde" rx="0.5" />
<rect x="347.03" y="491.40" width="1.27" height="9.60" fill="#d9dcde" rx="0.5" />
<rect x="349.46" y="491.40" width="1.27" height="9.60" fill="#d9dcde" rx="0.5" />
<rect x="351.90" y="491.40" width="1.27" height="9.60" fill="#d9dcde" rx="0.5" />
<rect x="354.34" y="491.40" width="1.27" height="9.60" fill="#d9dcde" rx="0.5" />
<rect x="356.77" y="491.40" width="1.27" height="9.60" fill="#d9dcde" rx="0.5" />
<rect x="359.21" y="491.40" width="1.27" height="9.60" fill="#d9dcde" rx="0.5" />
<rect x="361.65" y="491.40" width="1.27" height="9.60" fill="#d9dcde" rx="0.5" />
<rect x="364.08" y="491.40" width="1.27" height="9.60" fill="#d9dcde" rx="0.5" />
<rect x="366.52" y="491.40" width="1.27" height="9.60" fill="#d9dcde" rx="0.5" />
<rect x="368.96" y="491.40" width="1.27" height="9.60" fill="#d9dcde" rx="0.5" />
<rect x="371.40" y="491.40" width="1.27" height="9.60" fill="#d9dcde" rx="0.5" />
<rect x="373.83" y="491.40" width="1.27" height="9.60" fill="#d9dcde" rx="0.5" />
<rect x="376.27" y="491.40" width="1.27" height="9.60" fill="#d9dcde" rx="0.5" />
<rect x="378.71" y="491.40" width="1.27" height="9.60" fill="#d9dcde" rx="0.5" />
<rect x="381.14" y="491.40" width="1.27" height="9.60" fill="#d9dcde" rx="0.5" />
<rect x="383.58" y="491.40" width="1.27" height="9.60" fill="#d9dcde" rx="0.5" />
<rect x="386.02" y="491.40" width="1.27" height="9.60" fill="#d9dcde" rx="0.5" />
<rect x="388.45" y="491.40" width="1.27" height="9.60" fill="#d9dcde" rx="0.5" />
<rect x="390.89" y="491.40" width="1.27" height="9.60" fill="#d9dcde" rx="0.5" />
<rect x="393.33" y="491.40" width="1.27" height="9.60" fill="#d9dcde" rx="0.5" />
<rect x="395.76" y="491.40" width="1.27" height="9.60" fill="#d9dcde" rx="0.5" />
<rect x="398.20" y="491.40" width="1.27" height="9.60" fill="#d9dcde" rx="0.5" />
<rect x="400.64" y="491.40" width="1.27" height="9.60" fill="#d9dcde" rx="0.5" />
<rect x="403.07" y="491.40" width="1.27" height="9.60" fill="#d9dcde" rx="0.5" />
<rect x="405.51" y="491.40" width="1.27" height="9.60" fill="#d9dcde" rx="0.5" />
<rect x="407.95" y="491.40" width="1.27" height="9.60" fill="#d9dcde" rx="0.5" />
<rect x="317.78" y="566.00" width="1.27" height="9.00" fill="#d9dcde" rx="0.5" />
<rect x="320.22" y="566.00" width="1.27" height="9.00" fill="#d9dcde" rx="0.5" />
<rect x="322.66" y="566.00" width="1.27" height="9.00" fill="#d9dcde" rx="0.5" />
<rect x="325.10" y="566.00" width="1.27" height="9.00" fill="#d9dcde" rx="0.5" />
<rect x="327.53" y="566.00" width="1.27" height="9.00" fill="#d9dcde" rx="0.5" />
<rect x="329.97" y="566.00" width="1.27" height="9.00" fill="#d9dcde" rx="0.5" />
<rect x="332.41" y="566.00" width="1.27" height="9.00" fill="#d9dcde" rx="0.5" />
<rect x="334.84" y="566.00" width="1.27" height="9.00" fill="#d9dcde" rx="0.5" />
<rect x="337.28" y="566.00" width="1.27" height="9.00" fill="#d9dcde" rx="0.5" />
<rect x="339.72" y="566.00" width="1.27" height="9.00" fill="#d9dcde" rx="0.5" />
<rect x="342.15" y="566.00" width="1.27" height="9.00" fill="#d9dcde" rx="0.5" />
<rect x="344.59" y="566.00" width="1.27" height="9.00" fill="#d9dcde" rx="0.5" />
<rect x="347.03" y="566.00" width="1.27" height="9.00" fill="#d9dcde" rx="0.5" />
<rect x="349.46" y="566.00" width="1.27" height="9.00" fill="#d9dcde" rx="0.5" />
<rect x="351.90" y="566.00" width="1.27" height="9.00" fill="#d9dcde" rx="0.5" />
<rect x="354.34" y="566.00" width="1.27" height="9.00" fill="#d9dcde" rx="0.5" />
<rect x="356.77" y="566.00" width="1.27" height="9.00" fill="#d9dcde" rx="0.5" />
<rect x="359.21" y="566.00" width="1.27" height="9.00" fill="#d9dcde" rx="0.5" />
<rect x="361.65" y="566.00" width="1.27" height="9.00" fill="#d9dcde" rx="0.5" />
<rect x="364.08" y="566.00" width="1.27" height="9.00" fill="#d9dcde" rx="0.5" />
<rect x="366.52" y="566.00" width="1.27" height="9.00" fill="#d9dcde" rx="0.5" />
<rect x="368.96" y="566.00" width="1.27" height="9.00" fill="#d9dcde" rx="0.5" />
<rect x="371.40" y="566.00" width="1.27" height="9.00" fill="#d9dcde" rx="0.5" />
<rect x="373.83" y="566.00" width="1.27" height="9.00" fill="#d9dcde" rx="0.5" />
<rect x="376.27" y="566.00" width="1.27" height="9.00" fill="#d9dcde" rx="0.5" />
<rect x="378.71" y="566.00" width="1.27" height="9.00" fill="#d9dcde" rx="0.5" />
<rect x="381.14" y="566.00" width="1.27" height="9.00" fill="#d9dcde" rx="0.5" />
<rect x="383.58" y="566.00" width="1.27" height="9.00" fill="#d9dcde" rx="0.5" />
<rect x="386.02" y="566.00" width="1.27" height="9.00" fill="#d9dcde" rx="0.5" />
<rect x="388.45" y="566.00" width="1.27" height="9.00" fill="#d9dcde" rx="0.5" />
<rect x="390.89" y="566.00" width="1.27" height="9.00" fill="#d9dcde" rx="0.5" />
<rect x="393.33" y="566.00" width="1.27" height="9.00" fill="#d9dcde" rx="0.5" />
<rect x="395.76" y="566.00" width="1.27" height="9.00" fill="#d9dcde" rx="0.5" />
<rect x="398.20" y="566.00" width="1.27" height="9.00" fill="#d9dcde" rx="0.5" />
<rect x="400.64" y="566.00" width="1.27" height="9.00" fill="#d9dcde" rx="0.5" />
<rect x="403.07" y="566.00" width="1.27" height="9.00" fill="#d9dcde" rx="0.5" />
<rect x="405.51" y="566.00" width="1.27" height="9.00" fill="#d9dcde" rx="0.5" />
<rect x="407.95" y="566.00" width="1.27" height="9.00" fill="#d9dcde" rx="0.5" />
<rect x="307.00" y="502.00" width="9.00" height="62.60" fill="#1d4a70" opacity="0.75" />
<rect x="409.60" y="502.00" width="9.80" height="62.60" fill="#1d4a70" opacity="0.75" />
<rect x="307.00" y="502.54" width="9.00" height="1.32" fill="#c9cdd0" rx="0.5" />
<rect x="307.00" y="504.95" width="9.00" height="1.32" fill="#c9cdd0" rx="0.5" />
<rect x="307.00" y="507.36" width="9.00" height="1.32" fill="#c9cdd0" rx="0.5" />
<rect x="307.00" y="509.76" width="9.00" height="1.32" fill="#c9cdd0" rx="0.5" />
<rect x="307.00" y="512.17" width="9.00" height="1.32" fill="#c9cdd0" rx="0.5" />
<rect x="307.00" y="514.58" width="9.00" height="1.32" fill="#c9cdd0" rx="0.5" />
<rect x="307.00" y="516.99" width="9.00" height="1.32" fill="#c9cdd0" rx="0.5" />
<rect x="307.00" y="519.40" width="9.00" height="1.32" fill="#c9cdd0" rx="0.5" />
<rect x="307.00" y="521.80" width="9.00" height="1.32" fill="#c9cdd0" rx="0.5" />
<rect x="307.00" y="524.21" width="9.00" height="1.32" fill="#c9cdd0" rx="0.5" />
<rect x="307.00" y="526.62" width="9.00" height="1.32" fill="#c9cdd0" rx="0.5" />
<rect x="307.00" y="529.03" width="9.00" height="1.32" fill="#c9cdd0" rx="0.5" />
<rect x="307.00" y="531.43" width="9.00" height="1.32" fill="#c9cdd0" rx="0.5" />
<rect x="307.00" y="533.84" width="9.00" height="1.32" fill="#c9cdd0" rx="0.5" />
<rect x="307.00" y="536.25" width="9.00" height="1.32" fill="#c9cdd0" rx="0.5" />
<rect x="307.00" y="538.66" width="9.00" height="1.32" fill="#c9cdd0" rx="0.5" />
<rect x="307.00" y="541.06" width="9.00" height="1.32" fill="#c9cdd0" rx="0.5" />
<rect x="307.00" y="543.47" width="9.00" height="1.32" fill="#c9cdd0" rx="0.5" />
<rect x="307.00" y="545.88" width="9.00" height="1.32" fill="#c9cdd0" rx="0.5" />
<rect x="307.00" y="548.29" width="9.00" height="1.32" fill="#c9cdd0" rx="0.5" />
<rect x="307.00" y="550.70" width="9.00" height="1.32" fill="#c9cdd0" rx="0.5" />
<rect x="307.00" y="553.10" width="9.00" height="1.32" fill="#c9cdd0" rx="0.5" />
<rect x="307.00" y="555.51" width="9.00" height="1.32" fill="#c9cdd0" rx="0.5" />
<rect x="307.00" y="557.92" width="9.00" height="1.32" fill="#c9cdd0" rx="0.5" />
<rect x="307.00" y="560.33" width="9.00" height="1.32" fill="#c9cdd0" rx="0.5" />
<rect x="307.00" y="562.73" width="9.00" height="1.32" fill="#c9cdd0" rx="0.5" />
<rect x="409.60" y="502.54" width="9.80" height="1.32" fill="#c9cdd0" rx="0.5" />
<rect x="409.60" y="504.95" width="9.80" height="1.32" fill="#c9cdd0" rx="0.5" />
<rect x="409.60" y="507.36" width="9.80" height="1.32" fill="#c9cdd0" rx="0.5" />
<rect x="409.60" y="509.76" width="9.80" height="1.32" fill="#c9cdd0" rx="0.5" />
<rect x="409.60" y="512.17" width="9.80" height="1.32" fill="#c9cdd0" rx="0.5" />
<rect x="409.60" y="514.58" width="9.80" height="1.32" fill="#c9cdd0" rx="0.5" />
<rect x="409.60" y="516.99" width="9.80" height="1.32" fill="#c9cdd0" rx="0.5" />
<rect x="409.60" y="519.40" width="9.80" height="1.32" fill="#c9cdd0" rx="0.5" />
<rect x="409.60" y="521.80" width="9.80" height="1.32" fill="#c9cdd0" rx="0.5" />
<rect x="409.60" y="524.21" width="9.80" height="1.32" fill="#c9cdd0" rx="0.5" />
<rect x="409.60" y="526.62" width="9.80" height="1.32" fill="#c9cdd0" rx="0.5" />
<rect x="409.60" y="529.03" width="9.80" height="1.32" fill="#c9cdd0" rx="0.5" />
<rect x="409.60" y="531.43" width="9.80" height="1.32" fill="#c9cdd0" rx="0.5" />
<rect x="409.60" y="533.84" width="9.80" height="1.32" fill="#c9cdd0" rx="0.5" />
<rect x="409.60" y="536.25" width="9.80" height="1.32" fill="#c9cdd0" rx="0.5" />
<rect x="409.60" y="538.66" width="9.80" height="1.32" fill="#c9cdd0" rx="0.5" />
<rect x="409.60" y="541.06" width="9.80" height="1.32" fill="#c9cdd0" rx="0.5" />
<rect x="409.60" y="543.47" width="9.80" height="1.32" fill="#c9cdd0" rx="0.5" />
<rect x="409.60" y="545.88" width="9.80" height="1.32" fill="#c9cdd0" rx="0.5" />
<rect x="409.60" y="548.29" width="9.80" height="1.32" fill="#c9cdd0" rx="0.5" />
<rect x="409.60" y="550.70" width="9.80" height="1.32" fill="#c9cdd0" rx="0.5" />
<rect x="409.60" y="553.10" width="9.80" height="1.32" fill="#c9cdd0" rx="0.5" />
<rect x="409.60" y="555.51" width="9.80" height="1.32" fill="#c9cdd0" rx="0.5" />
<rect x="409.60" y="557.92" width="9.80" height="1.32" fill="#c9cdd0" rx="0.5" />
<rect x="409.60" y="560.33" width="9.80" height="1.32" fill="#c9cdd0" rx="0.5" />
<rect x="409.60" y="562.73" width="9.80" height="1.32" fill="#c9cdd0" rx="0.5" />
<rect x="315.00" y="500.30" width="95.60" height="66.60" fill="#4c4d51" rx="1" />
<rect x="315.60" y="500.90" width="94.40" height="1.00" fill="#5d5e62" />
<rect x="315.60" y="565.20" width="94.40" height="1.20" fill="#3a3b3e" />
<circle cx="401.60" cy="508.40" r="1.00" fill="#2c2d30" />
<g transform="rotate(180 363 534)" fill="#a9aaad">
<text x="356.5" y="526.2" font-size="13.6" textLength="41.8" lengthAdjust="spacingAndGlyphs">RTD2660H</text>
<text x="362" y="539.4" font-size="12.2" textLength="36" lengthAdjust="spacingAndGlyphs">LCA90E1</text>
<text x="359" y="550.6" font-size="8.6" textLength="39" lengthAdjust="spacingAndGlyphs" fill="#97989b">GLS08 TAIWAN</text>
</g>
<circle cx="373.20" cy="531.80" r="3.50" fill="#7f8084" />
<circle cx="396.60" cy="531.80" r="3.50" fill="#7f8084" />
<circle cx="373.20" cy="531.80" r="1.60" fill="#909195" />
<circle cx="396.60" cy="531.80" r="1.60" fill="#909195" />
<rect x="379.40" y="529.40" width="11.80" height="4.40" fill="#8d8e90" />
<rect x="380.00" y="529.80" width="1.90" height="3.60" fill="#a9aaa6" />
<rect x="382.90" y="529.80" width="1.90" height="3.60" fill="#a9aaa6" />
<rect x="385.80" y="529.80" width="1.90" height="3.60" fill="#a9aaa6" />
<rect x="388.70" y="529.80" width="1.90" height="3.60" fill="#a9aaa6" />
<polygon points="385.00,533.40 388.60,535.40 397.60,549.80 391.80,549.80 385.00,539.60 378.20,549.80 372.40,549.80 381.40,535.40" fill="#a3a39d" />
<polygon points="376.40,533.40 379.00,532.40 382.40,535.60 380.40,537.40" fill="#a3a39d" />
<polygon points="393.60,533.40 391.00,532.40 387.60,535.60 389.60,537.40" fill="#a3a39d" />
<line x1="375.40" y1="545.20" x2="375.40" y2="549.90" stroke="#4c4d51" stroke-width="1.0" />
<line x1="394.60" y1="545.20" x2="394.60" y2="549.90" stroke="#4c4d51" stroke-width="1.0" />
<rect x="382.60" y="541.20" width="5.00" height="2.40" fill="#7d7e80" />
<circle cx="413.60" cy="497.30" r="2.40" fill="#eef2f5" />
<text x="411.40" y="491.00" font-size="5.5" fill="#f4f7f9" text-anchor="start" font-weight="bold" >1</text>
<rect x="423.20" y="472.20" width="15.10" height="7.00" fill="none" rx="1.4" stroke="#f4f7f9" stroke-width="1.4" />
<rect x="424.30" y="473.30" width="3.87" height="4.80" fill="#b9bec3" />
<rect x="433.33" y="473.30" width="3.87" height="4.80" fill="#b9bec3" />
<rect x="428.17" y="473.30" width="5.16" height="4.80" fill="#3a3a3c" />
<rect x="423.20" y="480.80" width="14.40" height="6.20" fill="none" rx="1.4" stroke="#f4f7f9" stroke-width="1.4" />
<rect x="424.30" y="481.90" width="3.66" height="4.00" fill="#d9dcde" />
<rect x="432.84" y="481.90" width="3.66" height="4.00" fill="#d9dcde" />
<rect x="427.96" y="481.90" width="4.88" height="4.00" fill="#b98d68" />
<rect x="438.80" y="480.80" width="14.40" height="6.20" fill="none" rx="1.4" stroke="#f4f7f9" stroke-width="1.4" />
<rect x="439.90" y="481.90" width="3.66" height="4.00" fill="#b9bec3" />
<rect x="448.44" y="481.90" width="3.66" height="4.00" fill="#b9bec3" />
<rect x="443.56" y="481.90" width="4.88" height="4.00" fill="#2a2a2c" />
<rect x="432.80" y="489.00" width="18.40" height="29.40" fill="none" stroke="#f4f7f9" stroke-width="0.9" />
<rect x="434.60" y="490.00" width="14.80" height="3.60" fill="#dfe1e3" />
<rect x="434.60" y="514.00" width="14.80" height="3.50" fill="#dfe1e3" />
<rect x="433.80" y="492.40" width="16.40" height="23.00" fill="#47484c" rx="1" />
<rect x="425.20" y="496.80" width="7.00" height="14.60" fill="none" rx="1.4" stroke="#f4f7f9" stroke-width="1.4" />
<rect x="426.30" y="497.90" width="4.80" height="3.72" fill="#b9bec3" />
<rect x="426.30" y="506.58" width="4.80" height="3.72" fill="#b9bec3" />
<rect x="426.30" y="501.62" width="4.80" height="4.96" fill="#3a3a3c" />
<rect x="440.30" y="520.70" width="3.87" height="5.40" fill="#b9bec3" />
<rect x="449.33" y="520.70" width="3.87" height="5.40" fill="#b9bec3" />
<rect x="444.17" y="520.70" width="5.16" height="5.40" fill="#3a3a3c" />
<rect x="438.50" y="519.00" width="16.50" height="9.00" fill="none" rx="4" stroke="#f4f7f9" stroke-width="0.8" />
<rect x="459.20" y="478.00" width="21.00" height="26.20" fill="#b2b2b4" rx="2" />
<rect x="459.20" y="478.00" width="21.00" height="26.20" fill="none" rx="2" stroke="#e0e0e2" stroke-width="1.3" />
<text transform="translate(469.70 491.00) rotate(-80)" x="0" y="2.97" font-size="8.5" fill="#828284" text-anchor="middle" font-weight="normal">2R2</text>
<rect x="484.30" y="473.30" width="3.84" height="5.40" fill="#d9dcde" />
<rect x="493.26" y="473.30" width="3.84" height="5.40" fill="#d9dcde" />
<rect x="488.14" y="473.30" width="5.12" height="5.40" fill="#b98d68" />
<rect x="482.50" y="471.50" width="16.40" height="9.00" fill="none" rx="4" stroke="#f4f7f9" stroke-width="0.8" />
<rect x="485.53" y="482.00" width="2.27" height="7.40" fill="#e4e6e8" rx="0.5" />
<rect x="490.07" y="482.00" width="2.27" height="7.40" fill="#e4e6e8" rx="0.5" />
<rect x="494.60" y="482.00" width="2.27" height="7.40" fill="#e4e6e8" rx="0.5" />
<rect x="485.40" y="496.00" width="2.60" height="7.40" fill="#e4e6e8" rx="0.5" />
<rect x="494.60" y="496.00" width="2.60" height="7.40" fill="#e4e6e8" rx="0.5" />
<rect x="484.00" y="488.60" width="14.40" height="8.20" fill="#1e1f22" rx="0.6" />
<circle cx="500.60" cy="486.20" r="0.90" fill="#f4f7f9" />
<rect x="458.60" y="507.20" width="15.20" height="7.00" fill="none" rx="1.4" stroke="#f4f7f9" stroke-width="1.4" />
<rect x="459.70" y="508.30" width="3.90" height="4.80" fill="#d9dcde" />
<rect x="468.80" y="508.30" width="3.90" height="4.80" fill="#d9dcde" />
<rect x="463.60" y="508.30" width="5.20" height="4.80" fill="#b98d68" />
<rect x="458.60" y="515.20" width="15.20" height="7.00" fill="none" rx="1.4" stroke="#f4f7f9" stroke-width="1.4" />
<rect x="459.70" y="516.30" width="3.90" height="4.80" fill="#d9dcde" />
<rect x="468.80" y="516.30" width="3.90" height="4.80" fill="#d9dcde" />
<rect x="463.60" y="516.30" width="5.20" height="4.80" fill="#b98d68" />
<rect x="474.80" y="507.20" width="15.20" height="7.00" fill="none" rx="1.4" stroke="#f4f7f9" stroke-width="1.4" />
<rect x="475.90" y="508.30" width="3.90" height="4.80" fill="#b9bec3" />
<rect x="485.00" y="508.30" width="3.90" height="4.80" fill="#b9bec3" />
<rect x="479.80" y="508.30" width="5.20" height="4.80" fill="#3a3a3c" />
<rect x="474.80" y="515.20" width="15.20" height="7.00" fill="none" rx="1.4" stroke="#f4f7f9" stroke-width="1.4" />
<rect x="475.90" y="516.30" width="3.90" height="4.80" fill="#b9bec3" />
<rect x="485.00" y="516.30" width="3.90" height="4.80" fill="#b9bec3" />
<rect x="479.80" y="516.30" width="5.20" height="4.80" fill="#3a3a3c" />
<rect x="492.20" y="507.20" width="7.20" height="15.00" fill="none" rx="1.4" stroke="#f4f7f9" stroke-width="1.4" />
<rect x="493.30" y="508.30" width="5.00" height="3.84" fill="#b9bec3" />
<rect x="493.30" y="517.26" width="5.00" height="3.84" fill="#b9bec3" />
<rect x="493.30" y="512.14" width="5.00" height="5.12" fill="#3a3a3c" />
<rect x="434.20" y="534.20" width="6.90" height="14.60" fill="none" rx="1.4" stroke="#f4f7f9" stroke-width="1.4" />
<rect x="435.30" y="535.30" width="4.70" height="3.72" fill="#b9bec3" />
<rect x="435.30" y="543.98" width="4.70" height="3.72" fill="#b9bec3" />
<rect x="435.30" y="539.02" width="4.70" height="4.96" fill="#3a3a3c" />
<rect x="442.00" y="534.20" width="6.90" height="14.60" fill="none" rx="1.4" stroke="#f4f7f9" stroke-width="1.4" />
<rect x="443.10" y="535.30" width="4.70" height="3.72" fill="#d9dcde" />
<rect x="443.10" y="543.98" width="4.70" height="3.72" fill="#d9dcde" />
<rect x="443.10" y="539.02" width="4.70" height="4.96" fill="#b98d68" />
<rect x="449.80" y="534.20" width="6.90" height="14.60" fill="none" rx="1.4" stroke="#f4f7f9" stroke-width="1.4" />
<rect x="450.90" y="535.30" width="4.70" height="3.72" fill="#b9bec3" />
<rect x="450.90" y="543.98" width="4.70" height="3.72" fill="#b9bec3" />
<rect x="450.90" y="539.02" width="4.70" height="4.96" fill="#3a3a3c" />
<rect x="457.60" y="534.20" width="6.90" height="14.60" fill="none" rx="1.4" stroke="#f4f7f9" stroke-width="1.4" />
<rect x="458.70" y="535.30" width="4.70" height="3.72" fill="#b9bec3" />
<rect x="458.70" y="543.98" width="4.70" height="3.72" fill="#b9bec3" />
<rect x="458.70" y="539.02" width="4.70" height="4.96" fill="#3a3a3c" />
<rect x="465.40" y="534.20" width="6.90" height="14.60" fill="none" rx="1.4" stroke="#f4f7f9" stroke-width="1.4" />
<rect x="466.50" y="535.30" width="4.70" height="3.72" fill="#b9bec3" />
<rect x="466.50" y="543.98" width="4.70" height="3.72" fill="#b9bec3" />
<rect x="466.50" y="539.02" width="4.70" height="4.96" fill="#3a3a3c" />
<rect x="473.20" y="534.20" width="6.90" height="14.60" fill="none" rx="1.4" stroke="#f4f7f9" stroke-width="1.4" />
<rect x="474.30" y="535.30" width="4.70" height="3.72" fill="#d9dcde" />
<rect x="474.30" y="543.98" width="4.70" height="3.72" fill="#d9dcde" />
<rect x="474.30" y="539.02" width="4.70" height="4.96" fill="#b98d68" />
<rect x="485.20" y="534.20" width="15.00" height="6.90" fill="none" rx="1.4" stroke="#f4f7f9" stroke-width="1.4" />
<rect x="486.30" y="535.30" width="3.84" height="4.70" fill="#b9bec3" />
<rect x="495.26" y="535.30" width="3.84" height="4.70" fill="#b9bec3" />
<rect x="490.14" y="535.30" width="5.12" height="4.70" fill="#2a2a2c" />
<rect x="485.20" y="542.05" width="15.00" height="6.90" fill="none" rx="1.4" stroke="#f4f7f9" stroke-width="1.4" />
<rect x="486.30" y="543.15" width="3.84" height="4.70" fill="#b9bec3" />
<rect x="495.26" y="543.15" width="3.84" height="4.70" fill="#b9bec3" />
<rect x="490.14" y="543.15" width="5.12" height="4.70" fill="#2a2a2c" />
<rect x="485.20" y="549.90" width="15.00" height="6.90" fill="none" rx="1.4" stroke="#f4f7f9" stroke-width="1.4" />
<rect x="486.30" y="551.00" width="3.84" height="4.70" fill="#b9bec3" />
<rect x="495.26" y="551.00" width="3.84" height="4.70" fill="#b9bec3" />
<rect x="490.14" y="551.00" width="5.12" height="4.70" fill="#2a2a2c" />
<rect x="485.20" y="557.75" width="15.00" height="6.90" fill="none" rx="1.4" stroke="#f4f7f9" stroke-width="1.4" />
<rect x="486.30" y="558.85" width="3.84" height="4.70" fill="#d9dcde" />
<rect x="495.26" y="558.85" width="3.84" height="4.70" fill="#d9dcde" />
<rect x="490.14" y="558.85" width="5.12" height="4.70" fill="#b98d68" />
<rect x="485.20" y="565.60" width="15.00" height="6.90" fill="none" rx="1.4" stroke="#f4f7f9" stroke-width="1.4" />
<rect x="486.30" y="566.70" width="3.84" height="4.70" fill="#b9bec3" />
<rect x="495.26" y="566.70" width="3.84" height="4.70" fill="#b9bec3" />
<rect x="490.14" y="566.70" width="5.12" height="4.70" fill="#2a2a2c" />
<rect x="485.20" y="573.45" width="15.00" height="6.90" fill="none" rx="1.4" stroke="#f4f7f9" stroke-width="1.4" />
<rect x="486.30" y="574.55" width="3.84" height="4.70" fill="#b9bec3" />
<rect x="495.26" y="574.55" width="3.84" height="4.70" fill="#b9bec3" />
<rect x="490.14" y="574.55" width="5.12" height="4.70" fill="#2a2a2c" />
<rect x="485.20" y="581.30" width="15.00" height="6.90" fill="none" rx="1.4" stroke="#f4f7f9" stroke-width="1.4" />
<rect x="486.30" y="582.40" width="3.84" height="4.70" fill="#b9bec3" />
<rect x="495.26" y="582.40" width="3.84" height="4.70" fill="#b9bec3" />
<rect x="490.14" y="582.40" width="5.12" height="4.70" fill="#2a2a2c" />
<rect x="485.20" y="589.15" width="15.00" height="6.90" fill="none" rx="1.4" stroke="#f4f7f9" stroke-width="1.4" />
<rect x="486.30" y="590.25" width="3.84" height="4.70" fill="#d9dcde" />
<rect x="495.26" y="590.25" width="3.84" height="4.70" fill="#d9dcde" />
<rect x="490.14" y="590.25" width="5.12" height="4.70" fill="#b98d68" />
<rect x="485.20" y="597.00" width="15.00" height="6.90" fill="none" rx="1.4" stroke="#f4f7f9" stroke-width="1.4" />
<rect x="486.30" y="598.10" width="3.84" height="4.70" fill="#b9bec3" />
<rect x="495.26" y="598.10" width="3.84" height="4.70" fill="#b9bec3" />
<rect x="490.14" y="598.10" width="5.12" height="4.70" fill="#2a2a2c" />
<rect x="485.20" y="604.85" width="15.00" height="6.90" fill="none" rx="1.4" stroke="#f4f7f9" stroke-width="1.4" />
<rect x="486.30" y="605.95" width="3.84" height="4.70" fill="#b9bec3" />
<rect x="495.26" y="605.95" width="3.84" height="4.70" fill="#b9bec3" />
<rect x="490.14" y="605.95" width="5.12" height="4.70" fill="#2a2a2c" />
<rect x="485.20" y="612.70" width="15.00" height="6.90" fill="none" rx="1.4" stroke="#f4f7f9" stroke-width="1.4" />
<rect x="486.30" y="613.80" width="3.84" height="4.70" fill="#b9bec3" />
<rect x="495.26" y="613.80" width="3.84" height="4.70" fill="#b9bec3" />
<rect x="490.14" y="613.80" width="5.12" height="4.70" fill="#2a2a2c" />
<rect x="441.00" y="557.02" width="7.60" height="2.85" fill="#e4e6e8" rx="0.5" />
<rect x="441.00" y="562.72" width="7.60" height="2.85" fill="#e4e6e8" rx="0.5" />
<rect x="441.00" y="568.42" width="7.60" height="2.85" fill="#e4e6e8" rx="0.5" />
<rect x="441.00" y="574.12" width="7.60" height="2.85" fill="#e4e6e8" rx="0.5" />
<rect x="465.60" y="557.02" width="7.80" height="2.85" fill="#e4e6e8" rx="0.5" />
<rect x="465.60" y="562.72" width="7.80" height="2.85" fill="#e4e6e8" rx="0.5" />
<rect x="465.60" y="568.42" width="7.80" height="2.85" fill="#e4e6e8" rx="0.5" />
<rect x="465.60" y="574.12" width="7.80" height="2.85" fill="#e4e6e8" rx="0.5" />
<rect x="448.00" y="554.60" width="18.20" height="24.80" fill="#1e1f22" rx="0.8" />
<rect x="431.70" y="558.30" width="4.20" height="3.72" fill="#d9dcde" />
<rect x="431.70" y="566.98" width="4.20" height="3.72" fill="#d9dcde" />
<rect x="431.70" y="562.02" width="4.20" height="4.96" fill="#b98d68" />
<rect x="429.90" y="556.50" width="7.80" height="16.00" fill="none" rx="3.5" stroke="#f4f7f9" stroke-width="0.8" />
<line x1="514.10" y1="452.10" x2="514.10" y2="487.10" stroke="#f4f7f9" stroke-width="1.0" />
<line x1="514.10" y1="452.40" x2="531.00" y2="452.40" stroke="#f4f7f9" stroke-width="0.8" />
<rect x="516.40" y="452.00" width="6.60" height="3.60" fill="#dadcde" rx="1.5" />
<rect x="514.90" y="453.60" width="16.10" height="32.20" fill="#2b2c30" rx="1" />
<circle cx="520.00" cy="458.80" r="0.90" fill="#b9a98a" />
<circle cx="520.00" cy="481.60" r="0.90" fill="#b9a98a" />
<rect x="531.20" y="457.40" width="1.30" height="3.00" fill="#77787a" />
<rect x="531.20" y="480.20" width="1.30" height="3.00" fill="#77787a" />
<text x="504.40" y="456.80" font-size="8.6" fill="#f4f7f9" text-anchor="start" font-weight="bold" transform="rotate(90 504.40 456.80)" textLength="26.4" lengthAdjust="spacingAndGlyphs" >Power</text>
<line x1="514.10" y1="492.40" x2="514.10" y2="527.40" stroke="#f4f7f9" stroke-width="1.0" />
<line x1="514.10" y1="492.70" x2="531.00" y2="492.70" stroke="#f4f7f9" stroke-width="0.8" />
<rect x="516.40" y="492.30" width="6.60" height="3.60" fill="#dadcde" rx="1.5" />
<rect x="514.90" y="493.90" width="16.10" height="32.20" fill="#2b2c30" rx="1" />
<circle cx="520.00" cy="499.10" r="0.90" fill="#b9a98a" />
<circle cx="520.00" cy="521.90" r="0.90" fill="#b9a98a" />
<rect x="531.20" y="497.70" width="1.30" height="3.00" fill="#77787a" />
<rect x="531.20" y="520.50" width="1.30" height="3.00" fill="#77787a" />
<text x="504.40" y="501.40" font-size="8.6" fill="#f4f7f9" text-anchor="start" font-weight="bold" transform="rotate(90 504.40 501.40)" textLength="21.4" lengthAdjust="spacingAndGlyphs" >Menu</text>
<line x1="514.10" y1="532.70" x2="514.10" y2="567.70" stroke="#f4f7f9" stroke-width="1.0" />
<line x1="514.10" y1="533.00" x2="531.00" y2="533.00" stroke="#f4f7f9" stroke-width="0.8" />
<rect x="516.40" y="532.60" width="6.60" height="3.60" fill="#dadcde" rx="1.5" />
<rect x="514.90" y="534.20" width="16.10" height="32.20" fill="#2b2c30" rx="1" />
<circle cx="520.00" cy="539.40" r="0.90" fill="#b9a98a" />
<circle cx="520.00" cy="562.20" r="0.90" fill="#b9a98a" />
<rect x="531.20" y="538.00" width="1.30" height="3.00" fill="#77787a" />
<rect x="531.20" y="560.80" width="1.30" height="3.00" fill="#77787a" />
<text x="504.40" y="534.20" font-size="8.6" fill="#f4f7f9" text-anchor="start" font-weight="bold" transform="rotate(90 504.40 534.20)" textLength="31" lengthAdjust="spacingAndGlyphs" >Up/Left</text>
<line x1="514.10" y1="573.00" x2="514.10" y2="608.00" stroke="#f4f7f9" stroke-width="1.0" />
<line x1="514.10" y1="573.30" x2="531.00" y2="573.30" stroke="#f4f7f9" stroke-width="0.8" />
<rect x="516.40" y="572.90" width="6.60" height="3.60" fill="#dadcde" rx="1.5" />
<rect x="514.90" y="574.50" width="16.10" height="32.20" fill="#2b2c30" rx="1" />
<circle cx="520.00" cy="579.70" r="0.90" fill="#b9a98a" />
<circle cx="520.00" cy="602.50" r="0.90" fill="#b9a98a" />
<rect x="531.20" y="578.30" width="1.30" height="3.00" fill="#77787a" />
<rect x="531.20" y="601.10" width="1.30" height="3.00" fill="#77787a" />
<text x="504.40" y="568.40" font-size="8.6" fill="#f4f7f9" text-anchor="start" font-weight="bold" transform="rotate(90 504.40 568.40)" textLength="48.8" lengthAdjust="spacingAndGlyphs" >Down/Right</text>
<line x1="514.10" y1="613.30" x2="514.10" y2="648.30" stroke="#f4f7f9" stroke-width="1.0" />
<line x1="514.10" y1="613.60" x2="531.00" y2="613.60" stroke="#f4f7f9" stroke-width="0.8" />
<rect x="516.40" y="613.20" width="6.60" height="3.60" fill="#dadcde" rx="1.5" />
<rect x="514.90" y="614.80" width="16.10" height="32.20" fill="#2b2c30" rx="1" />
<circle cx="520.00" cy="620.00" r="0.90" fill="#b9a98a" />
<circle cx="520.00" cy="642.80" r="0.90" fill="#b9a98a" />
<rect x="531.20" y="618.60" width="1.30" height="3.00" fill="#77787a" />
<rect x="531.20" y="641.40" width="1.30" height="3.00" fill="#77787a" />
<text x="504.40" y="622.80" font-size="8.6" fill="#f4f7f9" text-anchor="start" font-weight="bold" transform="rotate(90 504.40 622.80)" textLength="16" lengthAdjust="spacingAndGlyphs" >Exit</text>
<rect x="531.20" y="511.50" width="1.50" height="4.00" fill="#77787a" />
<rect x="305.00" y="602.00" width="11.50" height="23.00" fill="none" stroke="#f4f7f9" stroke-width="0.9" />
<rect x="466.00" y="602.00" width="11.40" height="23.00" fill="none" stroke="#f4f7f9" stroke-width="0.9" />
<rect x="323.60" y="587.60" width="135.80" height="11.00" fill="#e9ecee" />
<rect x="325.72" y="589.00" width="1.04" height="9.60" fill="#55636e" rx="0.5" />
<rect x="328.19" y="589.00" width="1.04" height="9.60" fill="#55636e" rx="0.5" />
<rect x="330.66" y="589.00" width="1.04" height="9.60" fill="#55636e" rx="0.5" />
<rect x="333.13" y="589.00" width="1.04" height="9.60" fill="#55636e" rx="0.5" />
<rect x="335.60" y="589.00" width="1.04" height="9.60" fill="#55636e" rx="0.5" />
<rect x="338.07" y="589.00" width="1.04" height="9.60" fill="#55636e" rx="0.5" />
<rect x="340.54" y="589.00" width="1.04" height="9.60" fill="#55636e" rx="0.5" />
<rect x="343.01" y="589.00" width="1.04" height="9.60" fill="#55636e" rx="0.5" />
<rect x="345.48" y="589.00" width="1.04" height="9.60" fill="#55636e" rx="0.5" />
<rect x="347.95" y="589.00" width="1.04" height="9.60" fill="#55636e" rx="0.5" />
<rect x="350.42" y="589.00" width="1.04" height="9.60" fill="#55636e" rx="0.5" />
<rect x="352.89" y="589.00" width="1.04" height="9.60" fill="#55636e" rx="0.5" />
<rect x="355.36" y="589.00" width="1.04" height="9.60" fill="#55636e" rx="0.5" />
<rect x="357.83" y="589.00" width="1.04" height="9.60" fill="#55636e" rx="0.5" />
<rect x="360.30" y="589.00" width="1.04" height="9.60" fill="#55636e" rx="0.5" />
<rect x="362.77" y="589.00" width="1.04" height="9.60" fill="#55636e" rx="0.5" />
<rect x="365.24" y="589.00" width="1.04" height="9.60" fill="#55636e" rx="0.5" />
<rect x="367.71" y="589.00" width="1.04" height="9.60" fill="#55636e" rx="0.5" />
<rect x="370.18" y="589.00" width="1.04" height="9.60" fill="#55636e" rx="0.5" />
<rect x="372.65" y="589.00" width="1.04" height="9.60" fill="#55636e" rx="0.5" />
<rect x="375.12" y="589.00" width="1.04" height="9.60" fill="#55636e" rx="0.5" />
<rect x="377.59" y="589.00" width="1.04" height="9.60" fill="#55636e" rx="0.5" />
<rect x="380.06" y="589.00" width="1.04" height="9.60" fill="#55636e" rx="0.5" />
<rect x="382.53" y="589.00" width="1.04" height="9.60" fill="#55636e" rx="0.5" />
<rect x="385.01" y="589.00" width="1.04" height="9.60" fill="#55636e" rx="0.5" />
<rect x="387.48" y="589.00" width="1.04" height="9.60" fill="#55636e" rx="0.5" />
<rect x="389.95" y="589.00" width="1.04" height="9.60" fill="#55636e" rx="0.5" />
<rect x="392.42" y="589.00" width="1.04" height="9.60" fill="#55636e" rx="0.5" />
<rect x="394.89" y="589.00" width="1.04" height="9.60" fill="#55636e" rx="0.5" />
<rect x="397.36" y="589.00" width="1.04" height="9.60" fill="#55636e" rx="0.5" />
<rect x="399.83" y="589.00" width="1.04" height="9.60" fill="#55636e" rx="0.5" />
<rect x="402.30" y="589.00" width="1.04" height="9.60" fill="#55636e" rx="0.5" />
<rect x="404.77" y="589.00" width="1.04" height="9.60" fill="#55636e" rx="0.5" />
<rect x="407.24" y="589.00" width="1.04" height="9.60" fill="#55636e" rx="0.5" />
<rect x="409.71" y="589.00" width="1.04" height="9.60" fill="#55636e" rx="0.5" />
<rect x="412.18" y="589.00" width="1.04" height="9.60" fill="#55636e" rx="0.5" />
<rect x="414.65" y="589.00" width="1.04" height="9.60" fill="#55636e" rx="0.5" />
<rect x="417.12" y="589.00" width="1.04" height="9.60" fill="#55636e" rx="0.5" />
<rect x="419.59" y="589.00" width="1.04" height="9.60" fill="#55636e" rx="0.5" />
<rect x="422.06" y="589.00" width="1.04" height="9.60" fill="#55636e" rx="0.5" />
<rect x="424.53" y="589.00" width="1.04" height="9.60" fill="#55636e" rx="0.5" />
<rect x="427.00" y="589.00" width="1.04" height="9.60" fill="#55636e" rx="0.5" />
<rect x="429.47" y="589.00" width="1.04" height="9.60" fill="#55636e" rx="0.5" />
<rect x="431.94" y="589.00" width="1.04" height="9.60" fill="#55636e" rx="0.5" />
<rect x="434.41" y="589.00" width="1.04" height="9.60" fill="#55636e" rx="0.5" />
<rect x="436.88" y="589.00" width="1.04" height="9.60" fill="#55636e" rx="0.5" />
<rect x="439.35" y="589.00" width="1.04" height="9.60" fill="#55636e" rx="0.5" />
<rect x="441.82" y="589.00" width="1.04" height="9.60" fill="#55636e" rx="0.5" />
<rect x="444.29" y="589.00" width="1.04" height="9.60" fill="#55636e" rx="0.5" />
<rect x="446.76" y="589.00" width="1.04" height="9.60" fill="#55636e" rx="0.5" />
<rect x="449.23" y="589.00" width="1.04" height="9.60" fill="#55636e" rx="0.5" />
<rect x="451.71" y="589.00" width="1.04" height="9.60" fill="#55636e" rx="0.5" />
<rect x="454.18" y="589.00" width="1.04" height="9.60" fill="#55636e" rx="0.5" />
<rect x="456.65" y="589.00" width="1.04" height="9.60" fill="#55636e" rx="0.5" />
<text x="318.60" y="597.20" font-size="5.8" fill="#f4f7f9" text-anchor="start" font-weight="bold" >1</text>
<text x="461.00" y="597.20" font-size="6.6" fill="#f4f7f9" text-anchor="start" font-weight="bold" textLength="8.6" lengthAdjust="spacingAndGlyphs" >54</text>
<path d="M308,611.5 Q308,604 314,604 H468 Q473.4,604 473.4,611.5 Q473.4,619.5 468,619.5 H314 Q308,619.5 308,611.5 Z" fill="#e9e9eb" />
<rect x="313.80" y="598.00" width="154.00" height="14.00" fill="#f6f6f6" rx="1.5" />
<rect x="313.80" y="598.00" width="154.00" height="1.40" fill="#ffffff" />
<path d="M318,610.8 H466 V625.4 H318 Z" fill="#3a3d45" />
<path d="M318,610.8 L321,607.8 H324 V610.8 Z M466,610.8 L463,607.8 H460 V610.8 Z" fill="#3a3d45" />
<rect x="325.74" y="611.00" width="0.99" height="3.00" fill="#c9ccd0" rx="0.5" />
<rect x="328.20" y="611.00" width="0.99" height="3.00" fill="#c9ccd0" rx="0.5" />
<rect x="330.66" y="611.00" width="0.99" height="3.00" fill="#c9ccd0" rx="0.5" />
<rect x="333.13" y="611.00" width="0.99" height="3.00" fill="#c9ccd0" rx="0.5" />
<rect x="335.59" y="611.00" width="0.99" height="3.00" fill="#c9ccd0" rx="0.5" />
<rect x="338.05" y="611.00" width="0.99" height="3.00" fill="#c9ccd0" rx="0.5" />
<rect x="340.52" y="611.00" width="0.99" height="3.00" fill="#c9ccd0" rx="0.5" />
<rect x="342.98" y="611.00" width="0.99" height="3.00" fill="#c9ccd0" rx="0.5" />
<rect x="345.44" y="611.00" width="0.99" height="3.00" fill="#c9ccd0" rx="0.5" />
<rect x="347.91" y="611.00" width="0.99" height="3.00" fill="#c9ccd0" rx="0.5" />
<rect x="350.37" y="611.00" width="0.99" height="3.00" fill="#c9ccd0" rx="0.5" />
<rect x="352.83" y="611.00" width="0.99" height="3.00" fill="#c9ccd0" rx="0.5" />
<rect x="355.29" y="611.00" width="0.99" height="3.00" fill="#c9ccd0" rx="0.5" />
<rect x="357.76" y="611.00" width="0.99" height="3.00" fill="#c9ccd0" rx="0.5" />
<rect x="360.22" y="611.00" width="0.99" height="3.00" fill="#c9ccd0" rx="0.5" />
<rect x="362.68" y="611.00" width="0.99" height="3.00" fill="#c9ccd0" rx="0.5" />
<rect x="365.15" y="611.00" width="0.99" height="3.00" fill="#c9ccd0" rx="0.5" />
<rect x="367.61" y="611.00" width="0.99" height="3.00" fill="#c9ccd0" rx="0.5" />
<rect x="370.07" y="611.00" width="0.99" height="3.00" fill="#c9ccd0" rx="0.5" />
<rect x="372.54" y="611.00" width="0.99" height="3.00" fill="#c9ccd0" rx="0.5" />
<rect x="375.00" y="611.00" width="0.99" height="3.00" fill="#c9ccd0" rx="0.5" />
<rect x="377.46" y="611.00" width="0.99" height="3.00" fill="#c9ccd0" rx="0.5" />
<rect x="379.92" y="611.00" width="0.99" height="3.00" fill="#c9ccd0" rx="0.5" />
<rect x="382.39" y="611.00" width="0.99" height="3.00" fill="#c9ccd0" rx="0.5" />
<rect x="384.85" y="611.00" width="0.99" height="3.00" fill="#c9ccd0" rx="0.5" />
<rect x="387.31" y="611.00" width="0.99" height="3.00" fill="#c9ccd0" rx="0.5" />
<rect x="389.78" y="611.00" width="0.99" height="3.00" fill="#c9ccd0" rx="0.5" />
<rect x="392.24" y="611.00" width="0.99" height="3.00" fill="#c9ccd0" rx="0.5" />
<rect x="394.70" y="611.00" width="0.99" height="3.00" fill="#c9ccd0" rx="0.5" />
<rect x="397.16" y="611.00" width="0.99" height="3.00" fill="#c9ccd0" rx="0.5" />
<rect x="399.63" y="611.00" width="0.99" height="3.00" fill="#c9ccd0" rx="0.5" />
<rect x="402.09" y="611.00" width="0.99" height="3.00" fill="#c9ccd0" rx="0.5" />
<rect x="404.55" y="611.00" width="0.99" height="3.00" fill="#c9ccd0" rx="0.5" />
<rect x="407.02" y="611.00" width="0.99" height="3.00" fill="#c9ccd0" rx="0.5" />
<rect x="409.48" y="611.00" width="0.99" height="3.00" fill="#c9ccd0" rx="0.5" />
<rect x="411.94" y="611.00" width="0.99" height="3.00" fill="#c9ccd0" rx="0.5" />
<rect x="414.41" y="611.00" width="0.99" height="3.00" fill="#c9ccd0" rx="0.5" />
<rect x="416.87" y="611.00" width="0.99" height="3.00" fill="#c9ccd0" rx="0.5" />
<rect x="419.33" y="611.00" width="0.99" height="3.00" fill="#c9ccd0" rx="0.5" />
<rect x="421.79" y="611.00" width="0.99" height="3.00" fill="#c9ccd0" rx="0.5" />
<rect x="424.26" y="611.00" width="0.99" height="3.00" fill="#c9ccd0" rx="0.5" />
<rect x="426.72" y="611.00" width="0.99" height="3.00" fill="#c9ccd0" rx="0.5" />
<rect x="429.18" y="611.00" width="0.99" height="3.00" fill="#c9ccd0" rx="0.5" />
<rect x="431.65" y="611.00" width="0.99" height="3.00" fill="#c9ccd0" rx="0.5" />
<rect x="434.11" y="611.00" width="0.99" height="3.00" fill="#c9ccd0" rx="0.5" />
<rect x="436.57" y="611.00" width="0.99" height="3.00" fill="#c9ccd0" rx="0.5" />
<rect x="439.04" y="611.00" width="0.99" height="3.00" fill="#c9ccd0" rx="0.5" />
<rect x="441.50" y="611.00" width="0.99" height="3.00" fill="#c9ccd0" rx="0.5" />
<rect x="443.96" y="611.00" width="0.99" height="3.00" fill="#c9ccd0" rx="0.5" />
<rect x="446.42" y="611.00" width="0.99" height="3.00" fill="#c9ccd0" rx="0.5" />
<rect x="448.89" y="611.00" width="0.99" height="3.00" fill="#c9ccd0" rx="0.5" />
<rect x="451.35" y="611.00" width="0.99" height="3.00" fill="#c9ccd0" rx="0.5" />
<rect x="453.81" y="611.00" width="0.99" height="3.00" fill="#c9ccd0" rx="0.5" />
<rect x="456.28" y="611.00" width="0.99" height="3.00" fill="#c9ccd0" rx="0.5" />
<rect x="318.00" y="614.20" width="148.00" height="2.00" fill="#2c2f36" />
<rect x="318.00" y="622.60" width="148.00" height="2.80" fill="#2b2d33" />
<rect x="323.60" y="626.60" width="133.80" height="25.20" fill="#c8741a" rx="1.2" />
<rect x="323.60" y="626.60" width="133.80" height="9.90" fill="#dc8a30" />
<rect x="326.72" y="627.40" width="0.96" height="8.20" fill="#b8680f" rx="0.5" />
<rect x="329.11" y="627.40" width="0.96" height="8.20" fill="#b8680f" rx="0.5" />
<rect x="331.49" y="627.40" width="0.96" height="8.20" fill="#b8680f" rx="0.5" />
<rect x="333.88" y="627.40" width="0.96" height="8.20" fill="#b8680f" rx="0.5" />
<rect x="336.27" y="627.40" width="0.96" height="8.20" fill="#b8680f" rx="0.5" />
<rect x="338.66" y="627.40" width="0.96" height="8.20" fill="#b8680f" rx="0.5" />
<rect x="341.05" y="627.40" width="0.96" height="8.20" fill="#b8680f" rx="0.5" />
<rect x="343.44" y="627.40" width="0.96" height="8.20" fill="#b8680f" rx="0.5" />
<rect x="345.83" y="627.40" width="0.96" height="8.20" fill="#b8680f" rx="0.5" />
<rect x="348.22" y="627.40" width="0.96" height="8.20" fill="#b8680f" rx="0.5" />
<rect x="350.61" y="627.40" width="0.96" height="8.20" fill="#b8680f" rx="0.5" />
<rect x="352.99" y="627.40" width="0.96" height="8.20" fill="#b8680f" rx="0.5" />
<rect x="355.38" y="627.40" width="0.96" height="8.20" fill="#b8680f" rx="0.5" />
<rect x="357.77" y="627.40" width="0.96" height="8.20" fill="#b8680f" rx="0.5" />
<rect x="360.16" y="627.40" width="0.96" height="8.20" fill="#b8680f" rx="0.5" />
<rect x="362.55" y="627.40" width="0.96" height="8.20" fill="#b8680f" rx="0.5" />
<rect x="364.94" y="627.40" width="0.96" height="8.20" fill="#b8680f" rx="0.5" />
<rect x="367.33" y="627.40" width="0.96" height="8.20" fill="#b8680f" rx="0.5" />
<rect x="369.72" y="627.40" width="0.96" height="8.20" fill="#b8680f" rx="0.5" />
<rect x="372.11" y="627.40" width="0.96" height="8.20" fill="#b8680f" rx="0.5" />
<rect x="374.49" y="627.40" width="0.96" height="8.20" fill="#b8680f" rx="0.5" />
<rect x="376.88" y="627.40" width="0.96" height="8.20" fill="#b8680f" rx="0.5" />
<rect x="379.27" y="627.40" width="0.96" height="8.20" fill="#b8680f" rx="0.5" />
<rect x="381.66" y="627.40" width="0.96" height="8.20" fill="#b8680f" rx="0.5" />
<rect x="384.05" y="627.40" width="0.96" height="8.20" fill="#b8680f" rx="0.5" />
<rect x="386.44" y="627.40" width="0.96" height="8.20" fill="#b8680f" rx="0.5" />
<rect x="388.83" y="627.40" width="0.96" height="8.20" fill="#b8680f" rx="0.5" />
<rect x="391.22" y="627.40" width="0.96" height="8.20" fill="#b8680f" rx="0.5" />
<rect x="393.61" y="627.40" width="0.96" height="8.20" fill="#b8680f" rx="0.5" />
<rect x="395.99" y="627.40" width="0.96" height="8.20" fill="#b8680f" rx="0.5" />
<rect x="398.38" y="627.40" width="0.96" height="8.20" fill="#b8680f" rx="0.5" />
<rect x="400.77" y="627.40" width="0.96" height="8.20" fill="#b8680f" rx="0.5" />
<rect x="403.16" y="627.40" width="0.96" height="8.20" fill="#b8680f" rx="0.5" />
<rect x="405.55" y="627.40" width="0.96" height="8.20" fill="#b8680f" rx="0.5" />
<rect x="407.94" y="627.40" width="0.96" height="8.20" fill="#b8680f" rx="0.5" />
<rect x="410.33" y="627.40" width="0.96" height="8.20" fill="#b8680f" rx="0.5" />
<rect x="412.72" y="627.40" width="0.96" height="8.20" fill="#b8680f" rx="0.5" />
<rect x="415.11" y="627.40" width="0.96" height="8.20" fill="#b8680f" rx="0.5" />
<rect x="417.49" y="627.40" width="0.96" height="8.20" fill="#b8680f" rx="0.5" />
<rect x="419.88" y="627.40" width="0.96" height="8.20" fill="#b8680f" rx="0.5" />
<rect x="422.27" y="627.40" width="0.96" height="8.20" fill="#b8680f" rx="0.5" />
<rect x="424.66" y="627.40" width="0.96" height="8.20" fill="#b8680f" rx="0.5" />
<rect x="427.05" y="627.40" width="0.96" height="8.20" fill="#b8680f" rx="0.5" />
<rect x="429.44" y="627.40" width="0.96" height="8.20" fill="#b8680f" rx="0.5" />
<rect x="431.83" y="627.40" width="0.96" height="8.20" fill="#b8680f" rx="0.5" />
<rect x="434.22" y="627.40" width="0.96" height="8.20" fill="#b8680f" rx="0.5" />
<rect x="436.61" y="627.40" width="0.96" height="8.20" fill="#b8680f" rx="0.5" />
<rect x="438.99" y="627.40" width="0.96" height="8.20" fill="#b8680f" rx="0.5" />
<rect x="441.38" y="627.40" width="0.96" height="8.20" fill="#b8680f" rx="0.5" />
<rect x="443.77" y="627.40" width="0.96" height="8.20" fill="#b8680f" rx="0.5" />
<rect x="446.16" y="627.40" width="0.96" height="8.20" fill="#b8680f" rx="0.5" />
<rect x="448.55" y="627.40" width="0.96" height="8.20" fill="#b8680f" rx="0.5" />
<rect x="450.94" y="627.40" width="0.96" height="8.20" fill="#b8680f" rx="0.5" />
<rect x="453.33" y="627.40" width="0.96" height="8.20" fill="#b8680f" rx="0.5" />
<rect x="323.60" y="636.50" width="133.80" height="1.90" fill="#b0630f" />
<rect x="323.60" y="649.40" width="133.80" height="2.40" fill="#8a4c0c" />
<rect x="452.00" y="637.00" width="6.60" height="14.80" fill="#3b3b30" rx="1" />
<rect x="453.60" y="638.60" width="2.80" height="9.90" fill="#d9d9cf" />
<rect x="342.00" y="644.60" width="29.00" height="2.80" fill="#e0b72c" opacity="0.9" />
<rect x="376.00" y="644.40" width="10.00" height="3.20" fill="#e0b72c" opacity="0.9" />
<rect x="410.00" y="640.00" width="11.00" height="8.00" fill="#e8d6a0" opacity="0.65" />
<rect x="424.00" y="640.00" width="13.00" height="8.00" fill="#e8d6a0" opacity="0.55" />
<circle cx="329.60" cy="640.00" r="0.90" fill="#f3e6c9" />
<text x="253.20" y="669.70" font-size="11.4" fill="#f4f7f9" text-anchor="start" font-weight="bold" textLength="123.4" lengthAdjust="spacingAndGlyphs" >3.5inch HDMI LCD (E)</text>
<text x="253.20" y="678.20" font-size="6.6" fill="#f4f7f9" text-anchor="start" font-weight="bold" textLength="78.8" lengthAdjust="spacingAndGlyphs" >Capacitive Touch Screen</text>
<text x="253.20" y="685.60" font-size="6.4" fill="#f4f7f9" text-anchor="start" font-weight="bold" textLength="46.4" lengthAdjust="spacingAndGlyphs" >640×480 Pixels</text>
<circle cx="341.50" cy="678.50" r="4.60" fill="#1a4f86" />
<circle cx="341.50" cy="678.50" r="1.70" fill="#d5dde3" />
<polygon points="383.60,662.60 388.00,662.60 389.60,669.60 391.40,665.40 394.20,665.40 396.20,669.80 399.60,659.60 401.30,656.30 402.60,660.20 406.60,663.60 409.60,667.60 410.90,670.60 408.60,675.60 404.50,680.30 404.20,674.80 406.20,670.60 404.20,667.40 402.20,666.40 399.40,674.80 394.60,674.80 392.80,670.60 391.00,674.80 386.40,674.80" fill="#f6f8fa" />
<circle cx="413.30" cy="660.00" r="3.10" fill="none" stroke="#f6f8fa" stroke-width="1.2" />
<text x="412.00" y="661.60" font-size="4.2" fill="#f4f7f9" text-anchor="start" font-weight="bold" >R</text>
<text x="384.20" y="686.00" font-size="5.3" fill="#f4f7f9" text-anchor="start" font-weight="bold" textLength="32.4" lengthAdjust="spacingAndGlyphs" >Waveshare</text>
<path d="M425.6,679.0 L420.6,675.8 L420.6,670.0 L425.0,664.8 Q425.4,660.8 431.1,660.8 Q436.8,660.8 437.2,664.8 L441.6,670.0 L441.6,675.2 L436.6,679.0" fill="none" stroke="#f6f8fa" stroke-width="2.5" stroke-linejoin="round" stroke-linecap="round"/>
<path d="M431.1,660.8 Q431.2,658.2 432.9,657.0" fill="none" stroke="#f6f8fa" stroke-width="1.5" stroke-linecap="round"/>
<circle cx="430.80" cy="666.90" r="2.90" fill="#f6f8fa" />
<circle cx="426.60" cy="673.90" r="3.10" fill="#f6f8fa" />
<circle cx="434.90" cy="673.50" r="2.90" fill="#f6f8fa" />
<circle cx="430.80" cy="666.90" r="0.80" fill="#196ca6" />
<circle cx="426.60" cy="673.90" r="0.90" fill="#196ca6" />
<circle cx="434.90" cy="673.50" r="0.80" fill="#196ca6" />
<circle cx="441.60" cy="660.00" r="3.20" fill="none" stroke="#f6f8fa" stroke-width="1.2" />
<text x="440.30" y="661.60" font-size="4.2" fill="#f4f7f9" text-anchor="start" font-weight="bold" >R</text>
<text x="419.20" y="686.00" font-size="5.3" fill="#f4f7f9" text-anchor="start" font-weight="bold" textLength="26.4" lengthAdjust="spacingAndGlyphs" >SpotPear</text>
<circle cx="455.60" cy="665.20" r="4.60" fill="#7f8e9b" />
<circle cx="455.60" cy="664.80" r="3.70" fill="#e6dcb8" />
<path d="M452.5,665.1999999999999 h6.2 v3.4 q0,3.2 -3.1,3.2 q-3.1,0 -3.1,-3.2 Z" fill="#c49c4a" />
<circle cx="455.20" cy="664.20" r="1.50" fill="#f4eed8" />
<circle cx="468.00" cy="665.20" r="4.60" fill="#7f8e9b" />
<circle cx="468.00" cy="664.80" r="3.70" fill="#e6dcb8" />
<path d="M464.9,665.1999999999999 h6.2 v3.4 q0,3.2 -3.1,3.2 q-3.1,0 -3.1,-3.2 Z" fill="#c49c4a" />
<circle cx="467.60" cy="664.20" r="1.50" fill="#f4eed8" />
<circle cx="480.40" cy="664.60" r="4.60" fill="#7f8e9b" />
<circle cx="480.40" cy="664.20" r="3.70" fill="#e6dcb8" />
<path d="M477.29999999999995,664.6 h6.2 v3.4 q0,3.2 -3.1,3.2 q-3.1,0 -3.1,-3.2 Z" fill="#c49c4a" />
<circle cx="480.00" cy="663.60" r="1.50" fill="#f4eed8" />
<circle cx="468.00" cy="677.40" r="4.60" fill="#7f8e9b" />
<circle cx="468.00" cy="677.00" r="3.70" fill="#e6dcb8" />
<path d="M464.9,677.4 h6.2 v3.4 q0,3.2 -3.1,3.2 q-3.1,0 -3.1,-3.2 Z" fill="#c49c4a" />
<circle cx="467.60" cy="676.40" r="1.50" fill="#f4eed8" />
<circle cx="480.40" cy="677.40" r="4.60" fill="#7f8e9b" />
<circle cx="480.40" cy="677.00" r="3.70" fill="#e6dcb8" />
<path d="M477.29999999999995,677.4 h6.2 v3.4 q0,3.2 -3.1,3.2 q-3.1,0 -3.1,-3.2 Z" fill="#c49c4a" />
<circle cx="480.00" cy="676.40" r="1.50" fill="#f4eed8" />
<g clip-path="url(#cpBoard)">
<circle cx="234.50" cy="672.10" r="16.10" fill="#0f4a7c" opacity="0.45"/>
<circle cx="234.80" cy="671.80" r="14.80" fill="url(#gSt1)" />
<circle cx="232.80" cy="677.60" r="14.30" fill="#a6a7a9" />
<circle cx="232.80" cy="677.60" r="13.40" fill="url(#gSt3)" />
<circle cx="232.80" cy="677.60" r="10.80" fill="none" stroke="#b9babc" stroke-width="1.0" />
<circle cx="232.30" cy="676.70" r="7.60" fill="#cfd0d1" />
<circle cx="232.30" cy="676.70" r="6.60" fill="#e9e9e9" />
<circle cx="232.30" cy="676.70" r="5.60" fill="#838486" />
<circle cx="232.30" cy="676.70" r="4.80" fill="#0b0b0b" />
</g>
<g clip-path="url(#cpBoard)">
<circle cx="514.70" cy="671.00" r="15.60" fill="#0f4a7c" opacity="0.45"/>
<circle cx="515.00" cy="670.70" r="14.30" fill="url(#gSt1)" />
<circle cx="518.30" cy="676.70" r="13.60" fill="#a6a7a9" />
<circle cx="518.30" cy="676.70" r="12.70" fill="url(#gSt3)" />
<circle cx="518.30" cy="676.70" r="10.10" fill="none" stroke="#b9babc" stroke-width="1.0" />
<circle cx="519.00" cy="676.30" r="7.60" fill="#cfd0d1" />
<circle cx="519.00" cy="676.30" r="6.60" fill="#e9e9e9" />
<circle cx="519.00" cy="676.30" r="5.60" fill="#838486" />
<circle cx="519.00" cy="676.30" r="4.80" fill="#0b0b0b" />
</g>
<rect x="161.00" y="651.40" width="9.80" height="27.00" fill="none" stroke="#f4f7f9" stroke-width="1.3" />
<rect x="163.10" y="654.20" width="5.60" height="5.60" fill="#ccd1d6" rx="0.8" />
<rect x="163.10" y="661.90" width="5.60" height="5.60" fill="#ccd1d6" rx="0.8" />
<rect x="163.10" y="669.60" width="5.60" height="5.60" fill="#ccd1d6" rx="0.8" />
<rect x="173.60" y="651.40" width="9.80" height="27.00" fill="none" stroke="#f4f7f9" stroke-width="1.3" />
<rect x="175.70" y="654.20" width="5.60" height="5.60" fill="#ccd1d6" rx="0.8" />
<rect x="175.70" y="661.90" width="5.60" height="5.60" fill="#ccd1d6" rx="0.8" />
<rect x="175.70" y="669.60" width="5.60" height="5.60" fill="#ccd1d6" rx="0.8" />
<rect x="187.20" y="651.40" width="9.80" height="27.00" fill="none" stroke="#f4f7f9" stroke-width="1.3" />
<rect x="189.30" y="654.20" width="5.60" height="5.60" fill="#ccd1d6" rx="0.8" />
<rect x="189.30" y="661.90" width="5.60" height="5.60" fill="#ccd1d6" rx="0.8" />
<rect x="189.30" y="669.60" width="5.60" height="5.60" fill="#ccd1d6" rx="0.8" />
<rect x="200.60" y="651.40" width="9.80" height="27.00" fill="none" stroke="#f4f7f9" stroke-width="1.3" />
<rect x="202.70" y="654.20" width="5.60" height="5.60" fill="#ccd1d6" rx="0.8" />
<rect x="202.70" y="661.90" width="5.60" height="5.60" fill="#ccd1d6" rx="0.8" />
<rect x="202.70" y="669.60" width="5.60" height="5.60" fill="#ccd1d6" rx="0.8" />
<rect x="179.10" y="627.60" width="0.90" height="1.60" fill="#f4f7f9" />
<rect x="179.10" y="636.40" width="0.90" height="1.60" fill="#f4f7f9" />
<rect x="175.90" y="630.40" width="1.60" height="0.90" fill="#f4f7f9" />
<rect x="184.60" y="630.40" width="1.60" height="0.90" fill="#f4f7f9" />
<rect x="180.70" y="627.60" width="0.90" height="1.60" fill="#f4f7f9" />
<rect x="180.70" y="636.40" width="0.90" height="1.60" fill="#f4f7f9" />
<rect x="175.90" y="632.00" width="1.60" height="0.90" fill="#f4f7f9" />
<rect x="184.60" y="632.00" width="1.60" height="0.90" fill="#f4f7f9" />
<rect x="182.30" y="627.60" width="0.90" height="1.60" fill="#f4f7f9" />
<rect x="182.30" y="636.40" width="0.90" height="1.60" fill="#f4f7f9" />
<rect x="175.90" y="633.60" width="1.60" height="0.90" fill="#f4f7f9" />
<rect x="184.60" y="633.60" width="1.60" height="0.90" fill="#f4f7f9" />
<rect x="177.60" y="629.40" width="6.80" height="6.80" fill="#1f2023" rx="0.6" />
<rect x="179.00" y="640.40" width="4.20" height="1.20" fill="#f4f7f9" />
<rect x="204.10" y="627.60" width="0.90" height="1.60" fill="#f4f7f9" />
<rect x="204.10" y="636.40" width="0.90" height="1.60" fill="#f4f7f9" />
<rect x="200.90" y="630.40" width="1.60" height="0.90" fill="#f4f7f9" />
<rect x="209.60" y="630.40" width="1.60" height="0.90" fill="#f4f7f9" />
<rect x="205.70" y="627.60" width="0.90" height="1.60" fill="#f4f7f9" />
<rect x="205.70" y="636.40" width="0.90" height="1.60" fill="#f4f7f9" />
<rect x="200.90" y="632.00" width="1.60" height="0.90" fill="#f4f7f9" />
<rect x="209.60" y="632.00" width="1.60" height="0.90" fill="#f4f7f9" />
<rect x="207.30" y="627.60" width="0.90" height="1.60" fill="#f4f7f9" />
<rect x="207.30" y="636.40" width="0.90" height="1.60" fill="#f4f7f9" />
<rect x="200.90" y="633.60" width="1.60" height="0.90" fill="#f4f7f9" />
<rect x="209.60" y="633.60" width="1.60" height="0.90" fill="#f4f7f9" />
<rect x="202.60" y="629.40" width="6.80" height="6.80" fill="#1f2023" rx="0.6" />
<rect x="204.00" y="640.40" width="4.20" height="1.20" fill="#f4f7f9" />
<rect x="163.30" y="628.30" width="3.80" height="3.60" fill="#d9dcde" />
<rect x="163.30" y="636.70" width="3.80" height="3.60" fill="#d9dcde" />
<rect x="163.30" y="631.90" width="3.80" height="4.80" fill="#b98d68" />
<rect x="161.50" y="626.50" width="7.40" height="15.60" fill="none" rx="3.4" stroke="#f4f7f9" stroke-width="0.8" />
<rect x="216.70" y="619.30" width="3.84" height="6.00" fill="#d9dcde" />
<rect x="225.66" y="619.30" width="3.84" height="6.00" fill="#d9dcde" />
<rect x="220.54" y="619.30" width="5.12" height="6.00" fill="#196ca6" />
<rect x="215.00" y="617.60" width="16.20" height="9.40" fill="none" rx="4.4" stroke="#f4f7f9" stroke-width="0.9" />
<rect x="233.60" y="617.40" width="23.40" height="10.00" fill="none" stroke="#f4f7f9" stroke-width="0.9" />
<rect x="235.00" y="619.40" width="5.60" height="6.00" fill="#e2e4e6" />
<rect x="250.00" y="619.40" width="5.40" height="6.00" fill="#e2e4e6" />
<rect x="241.40" y="619.40" width="8.00" height="6.40" fill="#1f2023" rx="1.5" />
<rect x="218.20" y="628.20" width="7.40" height="16.00" fill="none" rx="1.4" stroke="#f4f7f9" stroke-width="1.4" />
<rect x="219.30" y="629.30" width="5.20" height="4.14" fill="#d9dcde" />
<rect x="219.30" y="638.96" width="5.20" height="4.14" fill="#d9dcde" />
<rect x="219.30" y="633.44" width="5.20" height="5.52" fill="#1f4a84" />
<rect x="228.40" y="630.40" width="5.60" height="2.20" fill="#f4f7f9" />
<rect x="240.00" y="630.40" width="5.60" height="2.20" fill="#f4f7f9" />
<rect x="228.40" y="635.00" width="5.60" height="2.20" fill="#f4f7f9" />
<rect x="240.00" y="635.00" width="5.60" height="2.20" fill="#f4f7f9" />
<rect x="228.40" y="639.60" width="5.60" height="2.20" fill="#f4f7f9" />
<rect x="240.00" y="639.60" width="5.60" height="2.20" fill="#f4f7f9" />
<line x1="237.00" y1="628.60" x2="237.00" y2="644.00" stroke="#f4f7f9" stroke-width="0.9" />
<rect x="217.80" y="645.80" width="16.00" height="7.60" fill="none" rx="1.4" stroke="#f4f7f9" stroke-width="1.4" />
<rect x="218.90" y="646.90" width="4.14" height="5.40" fill="#d9dcde" />
<rect x="228.56" y="646.90" width="4.14" height="5.40" fill="#d9dcde" />
<rect x="223.04" y="646.90" width="5.52" height="5.40" fill="#1f4a84" />
<rect x="234.80" y="645.80" width="16.00" height="7.60" fill="none" rx="1.4" stroke="#f4f7f9" stroke-width="1.4" />
<rect x="235.90" y="646.90" width="4.14" height="5.40" fill="#d9dcde" />
<rect x="245.56" y="646.90" width="4.14" height="5.40" fill="#d9dcde" />
<rect x="240.04" y="646.90" width="5.52" height="5.40" fill="#1f4a84" />
<rect x="250.20" y="628.20" width="7.20" height="14.60" fill="none" rx="1.4" stroke="#f4f7f9" stroke-width="1.4" />
<rect x="251.30" y="629.30" width="5.00" height="3.72" fill="#d9dcde" />
<rect x="251.30" y="637.98" width="5.00" height="3.72" fill="#d9dcde" />
<rect x="251.30" y="633.02" width="5.00" height="4.96" fill="#dfe1e3" />
<rect x="258.20" y="628.20" width="7.20" height="14.60" fill="none" rx="1.4" stroke="#f4f7f9" stroke-width="1.4" />
<rect x="259.30" y="629.30" width="5.00" height="3.72" fill="#d9dcde" />
<rect x="259.30" y="637.98" width="5.00" height="3.72" fill="#d9dcde" />
<rect x="259.30" y="633.02" width="5.00" height="4.96" fill="#6f7074" />
<rect x="250.60" y="644.20" width="7.00" height="14.20" fill="none" rx="1.4" stroke="#f4f7f9" stroke-width="1.4" />
<rect x="251.70" y="645.30" width="4.80" height="3.60" fill="#d9dcde" />
<rect x="251.70" y="653.70" width="4.80" height="3.60" fill="#d9dcde" />
<rect x="251.70" y="648.90" width="4.80" height="4.80" fill="#1f4a84" />
<rect x="258.80" y="644.20" width="7.00" height="14.20" fill="none" rx="1.4" stroke="#f4f7f9" stroke-width="1.4" />
<rect x="259.90" y="645.30" width="4.80" height="3.60" fill="#d9dcde" />
<rect x="259.90" y="653.70" width="4.80" height="3.60" fill="#d9dcde" />
<rect x="259.90" y="648.90" width="4.80" height="4.80" fill="#1f4a84" />
<rect x="258.70" y="611.90" width="5.00" height="3.72" fill="#d9dcde" />
<rect x="258.70" y="620.58" width="5.00" height="3.72" fill="#d9dcde" />
<rect x="258.70" y="615.62" width="5.00" height="4.96" fill="#b98d68" />
<rect x="257.00" y="610.20" width="8.40" height="15.80" fill="none" rx="3.4" stroke="#f4f7f9" stroke-width="0.8" />
<rect x="266.60" y="614.20" width="25.40" height="20.80" fill="none" rx="1.5" stroke="#e3e6e8" stroke-width="1.3" />
<rect x="268.60" y="615.40" width="21.60" height="18.60" fill="#47484c" rx="2" />
<rect x="271.00" y="617.60" width="16.80" height="14.20" fill="#3a3b3f" rx="1.5" />
<rect x="266.00" y="636.60" width="10.00" height="21.40" fill="none" stroke="#f4f7f9" stroke-width="0.9" />
<rect x="268.20" y="638.40" width="5.60" height="4.60" fill="#e4e6e8" />
<rect x="268.20" y="651.60" width="5.60" height="4.80" fill="#e4e6e8" />
<rect x="266.60" y="643.40" width="9.20" height="7.60" fill="#1f2023" rx="1.6" />
<rect x="278.70" y="642.90" width="4.20" height="3.90" fill="#d9dcde" />
<rect x="278.70" y="652.00" width="4.20" height="3.90" fill="#d9dcde" />
<rect x="278.70" y="646.80" width="4.20" height="5.20" fill="#b98d68" />
<rect x="277.00" y="641.20" width="7.60" height="16.40" fill="none" rx="3.4" stroke="#f4f7f9" stroke-width="0.8" />
<rect x="291.40" y="635.60" width="10.00" height="21.40" fill="none" stroke="#f4f7f9" stroke-width="0.9" />
<rect x="293.60" y="637.40" width="5.60" height="4.60" fill="#e4e6e8" />
<rect x="293.60" y="650.60" width="5.60" height="4.80" fill="#e4e6e8" />
<rect x="292.00" y="642.40" width="9.20" height="7.60" fill="#1f2023" rx="1.6" />
<rect x="303.90" y="643.90" width="4.20" height="3.72" fill="#d9dcde" />
<rect x="303.90" y="652.58" width="4.20" height="3.72" fill="#d9dcde" />
<rect x="303.90" y="647.62" width="4.20" height="4.96" fill="#b98d68" />
<rect x="302.20" y="642.20" width="7.60" height="15.80" fill="none" rx="3.4" stroke="#f4f7f9" stroke-width="0.8" />
</g>
<g id="dims" filter="url(#tsoft)">
<line x1="532.00" y1="2.50" x2="583.00" y2="2.50" stroke="#8c8c8c" stroke-width="0.8" />
<line x1="518.00" y1="17.70" x2="557.00" y2="17.70" stroke="#8c8c8c" stroke-width="0.8" />
<line x1="518.00" y1="282.00" x2="557.00" y2="282.00" stroke="#8c8c8c" stroke-width="0.8" />
<line x1="532.00" y1="316.30" x2="587.00" y2="316.30" stroke="#8c8c8c" stroke-width="0.8" />
<line x1="550.20" y1="2.50" x2="550.20" y2="17.70" stroke="#8c8c8c" stroke-width="0.8" />
<polygon points="550.20,2.50 548.50,6.70 551.90,6.70" fill="#5a5a5a" />
<polygon points="550.20,17.70 548.50,13.50 551.90,13.50" fill="#5a5a5a" />
<line x1="550.20" y1="17.70" x2="550.20" y2="128.50" stroke="#8c8c8c" stroke-width="0.8" />
<polygon points="550.20,17.70 548.50,21.90 551.90,21.90" fill="#5a5a5a" />
<line x1="550.20" y1="149.00" x2="550.20" y2="282.00" stroke="#8c8c8c" stroke-width="0.8" />
<polygon points="550.20,282.00 548.50,277.80 551.90,277.80" fill="#5a5a5a" />
<line x1="550.20" y1="282.00" x2="550.20" y2="290.50" stroke="#8c8c8c" stroke-width="0.8" />
<polygon points="550.20,282.00 548.50,286.20 551.90,286.20" fill="#5a5a5a" />
<line x1="550.20" y1="306.00" x2="550.20" y2="316.30" stroke="#8c8c8c" stroke-width="0.8" />
<polygon points="550.20,316.30 548.50,312.10 551.90,312.10" fill="#5a5a5a" />
<line x1="580.20" y1="2.50" x2="580.20" y2="137.00" stroke="#8c8c8c" stroke-width="0.8" />
<polygon points="580.20,2.50 578.50,6.70 581.90,6.70" fill="#5a5a5a" />
<line x1="580.20" y1="164.00" x2="580.20" y2="316.30" stroke="#8c8c8c" stroke-width="0.8" />
<polygon points="580.20,316.30 578.50,312.10 581.90,312.10" fill="#5a5a5a" />
<text x="553.00" y="14.80" font-size="12.3" fill="#5e5e5e" text-anchor="start" font-weight="normal" >3.02</text>
<text x="534.50" y="143.40" font-size="12.3" fill="#5e5e5e" text-anchor="start" font-weight="normal" >53.36</text>
<text x="565.00" y="154.80" font-size="12.3" fill="#5e5e5e" text-anchor="start" font-weight="normal" >63.60</text>
<text x="539.30" y="302.60" font-size="12.3" fill="#5e5e5e" text-anchor="start" font-weight="normal" >7.22</text>
<line x1="153.70" y1="316.00" x2="153.70" y2="347.50" stroke="#8c8c8c" stroke-width="0.8" />
<line x1="169.00" y1="282.00" x2="169.00" y2="330.50" stroke="#6f6f6f" stroke-width="0.6" />
<line x1="518.00" y1="282.00" x2="518.00" y2="334.00" stroke="#6f6f6f" stroke-width="0.6" />
<line x1="532.20" y1="316.00" x2="532.20" y2="347.50" stroke="#8c8c8c" stroke-width="0.8" />
<line x1="169.00" y1="328.70" x2="336.00" y2="328.70" stroke="#8c8c8c" stroke-width="0.8" />
<line x1="379.00" y1="328.70" x2="518.00" y2="328.70" stroke="#8c8c8c" stroke-width="0.8" />
<polygon points="169.00,328.70 173.20,327.00 173.20,330.40" fill="#5a5a5a" />
<polygon points="518.00,328.70 513.80,327.00 513.80,330.40" fill="#5a5a5a" />
<polygon points="153.70,328.70 149.50,327.00 149.50,330.40" fill="#5a5a5a" />
<line x1="149.50" y1="328.70" x2="153.70" y2="328.70" stroke="#8c8c8c" stroke-width="0.8" />
<line x1="153.70" y1="344.50" x2="336.00" y2="344.50" stroke="#8c8c8c" stroke-width="0.8" />
<line x1="379.00" y1="344.50" x2="532.20" y2="344.50" stroke="#8c8c8c" stroke-width="0.8" />
<polygon points="153.70,344.50 157.90,342.80 157.90,346.20" fill="#5a5a5a" />
<polygon points="532.20,344.50 528.00,342.80 528.00,346.20" fill="#5a5a5a" />
<text x="343.20" y="333.30" font-size="12.3" fill="#5e5e5e" text-anchor="start" font-weight="normal" >70.68</text>
<text x="343.60" y="348.80" font-size="12.3" fill="#5e5e5e" text-anchor="start" font-weight="normal" >76.60</text>
<text x="157.20" y="341.80" font-size="12.3" fill="#5e5e5e" text-anchor="start" font-weight="normal" >2.96</text>
<line x1="516.00" y1="373.60" x2="557.00" y2="373.60" stroke="#8c8c8c" stroke-width="0.8" />
<line x1="529.30" y1="434.40" x2="557.00" y2="434.40" stroke="#8c8c8c" stroke-width="0.8" />
<line x1="526.50" y1="676.00" x2="555.00" y2="676.00" stroke="#8c8c8c" stroke-width="0.8" />
<line x1="531.00" y1="688.40" x2="555.00" y2="688.40" stroke="#8c8c8c" stroke-width="0.8" />
<line x1="549.80" y1="373.60" x2="549.80" y2="393.50" stroke="#8c8c8c" stroke-width="0.8" />
<polygon points="549.80,373.60 548.10,377.80 551.50,377.80" fill="#5a5a5a" />
<line x1="549.80" y1="415.50" x2="549.80" y2="434.50" stroke="#8c8c8c" stroke-width="0.8" />
<polygon points="549.80,434.50 548.10,430.30 551.50,430.30" fill="#5a5a5a" />
<line x1="549.80" y1="434.50" x2="549.80" y2="534.50" stroke="#8c8c8c" stroke-width="0.8" />
<polygon points="549.80,434.50 548.10,438.70 551.50,438.70" fill="#5a5a5a" />
<line x1="549.80" y1="562.00" x2="549.80" y2="676.00" stroke="#8c8c8c" stroke-width="0.8" />
<polygon points="549.80,676.00 548.10,671.80 551.50,671.80" fill="#5a5a5a" />
<line x1="549.80" y1="688.40" x2="549.80" y2="693.00" stroke="#8c8c8c" stroke-width="0.8" />
<polygon points="549.80,688.40 548.10,692.60 551.50,692.60" fill="#5a5a5a" />
<text x="536.60" y="408.80" font-size="12.3" fill="#5e5e5e" text-anchor="start" font-weight="normal" >12.28</text>
<text x="537.20" y="553.20" font-size="12.3" fill="#5e5e5e" text-anchor="start" font-weight="normal" >49.00</text>
<text x="536.00" y="686.40" font-size="12.3" fill="#5e5e5e" text-anchor="start" font-weight="normal" >3.66</text>
<text x="540.00" y="709.20" font-size="12.3" fill="#5e5e5e" text-anchor="start" font-weight="normal" >3.42</text>
<line x1="159.30" y1="688.00" x2="159.30" y2="712.00" stroke="#8c8c8c" stroke-width="0.8" />
<line x1="231.90" y1="683.00" x2="231.90" y2="712.00" stroke="#8c8c8c" stroke-width="0.8" />
<line x1="519.70" y1="685.00" x2="519.70" y2="712.50" stroke="#8c8c8c" stroke-width="0.8" />
<line x1="530.50" y1="688.00" x2="530.50" y2="712.50" stroke="#8c8c8c" stroke-width="0.8" />
<line x1="159.30" y1="707.00" x2="179.00" y2="707.00" stroke="#8c8c8c" stroke-width="0.8" />
<line x1="213.00" y1="707.00" x2="231.70" y2="707.00" stroke="#8c8c8c" stroke-width="0.8" />
<polygon points="159.30,707.00 163.50,705.30 163.50,708.70" fill="#5a5a5a" />
<polygon points="231.70,707.00 227.50,705.30 227.50,708.70" fill="#5a5a5a" />
<line x1="231.70" y1="705.40" x2="361.00" y2="705.40" stroke="#8c8c8c" stroke-width="0.8" />
<line x1="406.00" y1="705.40" x2="519.70" y2="705.40" stroke="#8c8c8c" stroke-width="0.8" />
<polygon points="231.70,705.40 235.90,703.70 235.90,707.10" fill="#5a5a5a" />
<polygon points="519.70,705.40 515.50,703.70 515.50,707.10" fill="#5a5a5a" />
<polygon points="530.50,705.40 534.70,703.70 534.70,707.10" fill="#5a5a5a" />
<line x1="530.50" y1="705.40" x2="535.00" y2="705.40" stroke="#8c8c8c" stroke-width="0.8" />
<text x="181.00" y="711.10" font-size="12.3" fill="#5e5e5e" text-anchor="start" font-weight="normal" >15.59</text>
<text x="369.60" y="709.70" font-size="12.3" fill="#5e5e5e" text-anchor="start" font-weight="normal" >58.00</text>
<text x="554.60" y="736.20" font-size="12.6" fill="#5e5e5e" text-anchor="start" font-weight="normal" >Unit:mm</text>
</g>
</svg>
</body>
</html>
